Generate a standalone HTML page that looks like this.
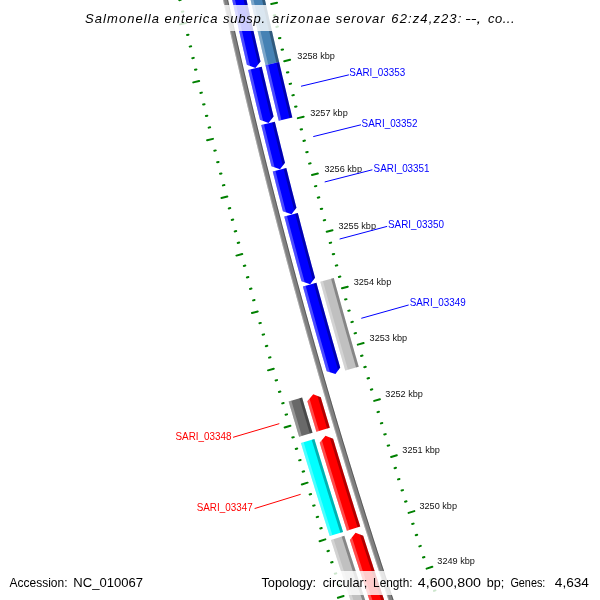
<!DOCTYPE html>
<html><head><meta charset="utf-8"><title>CGView map</title>
<style>
html,body{margin:0;padding:0;background:#fff;}
body{width:600px;height:600px;overflow:hidden;}
svg{display:block;font-family:"Liberation Sans",sans-serif;will-change:transform;filter:opacity(1);}
</style></head><body>
<svg width="600" height="600" viewBox="0 0 600 600">
<rect width="600" height="600" fill="#fff"/>
<clipPath id="c1"><path d="M222.3,-3.18 L222.94,-0.29 L223.57,2.59 L224.21,5.47 L224.85,8.35 L225.49,11.23 L226.13,14.12 L226.77,17 L227.42,19.88 L228.06,22.76 L228.71,25.64 L229.36,28.52 L230.01,31.4 L230.66,34.28 L231.32,37.15 L231.97,40.03 L232.63,42.91 L233.28,45.79 L233.94,48.67 L234.6,51.54 L235.26,54.42 L235.93,57.3 L236.59,60.17 L237.26,63.05 L237.93,65.92 L238.59,68.8 L239.26,71.67 L239.94,74.55 L240.61,77.42 L241.28,80.29 L241.96,83.17 L242.64,86.04 L243.31,88.91 L243.99,91.79 L244.68,94.66 L245.36,97.53 L246.04,100.4 L246.73,103.27 L247.42,106.14 L248.1,109.01 L248.79,111.88 L249.49,114.75 L250.18,117.62 L250.87,120.49 L251.57,123.36 L252.27,126.23 L252.96,129.1 L253.66,131.96 L254.36,134.83 L255.07,137.7 L255.77,140.56 L256.48,143.43 L257.18,146.3 L257.89,149.16 L258.6,152.03 L259.31,154.89 L260.02,157.76 L260.74,160.62 L261.45,163.48 L262.17,166.35 L262.89,169.21 L263.61,172.07 L264.33,174.94 L265.05,177.8 L265.78,180.66 L266.5,183.52 L267.23,186.38 L267.95,189.24 L268.68,192.1 L269.42,194.96 L270.15,197.82 L270.88,200.68 L271.62,203.54 L272.35,206.4 L273.09,209.26 L273.83,212.12 L274.57,214.97 L275.31,217.83 L276.06,220.69 L276.8,223.54 L277.55,226.4 L278.29,229.25 L279.04,232.11 L279.79,234.96 L280.55,237.82 L281.3,240.67 L282.05,243.53 L282.81,246.38 L283.57,249.23 L284.33,252.08 L285.09,254.94 L285.85,257.79 L286.61,260.64 L287.38,263.49 L288.14,266.34 L288.91,269.19 L289.68,272.04 L290.45,274.89 L291.22,277.74 L291.99,280.59 L292.77,283.44 L293.54,286.29 L294.32,289.13 L295.1,291.98 L295.88,294.83 L296.66,297.67 L297.44,300.52 L298.23,303.37 L299.01,306.21 L299.8,309.06 L300.59,311.9 L301.38,314.75 L302.17,317.59 L302.96,320.43 L303.75,323.28 L304.55,326.12 L305.35,328.96 L306.14,331.8 L306.94,334.64 L307.74,337.49 L308.55,340.33 L309.35,343.17 L310.15,346.01 L310.96,348.85 L311.77,351.68 L312.58,354.52 L313.39,357.36 L314.2,360.2 L315.01,363.04 L315.83,365.87 L316.65,368.71 L317.46,371.55 L318.28,374.38 L319.1,377.22 L319.92,380.05 L320.75,382.89 L321.57,385.72 L322.4,388.56 L323.23,391.39 L324.05,394.22 L324.88,397.06 L325.72,399.89 L326.55,402.72 L327.38,405.55 L328.22,408.38 L329.06,411.21 L329.9,414.04 L330.74,416.87 L331.58,419.7 L332.42,422.53 L333.26,425.36 L334.11,428.19 L334.96,431.02 L335.8,433.84 L336.65,436.67 L337.5,439.5 L338.36,442.32 L339.21,445.15 L340.07,447.97 L340.92,450.8 L341.78,453.62 L342.64,456.45 L343.5,459.27 L344.36,462.09 L345.23,464.91 L346.09,467.74 L346.96,470.56 L347.83,473.38 L348.7,476.2 L349.57,479.02 L350.44,481.84 L351.31,484.66 L352.19,487.48 L353.06,490.3 L353.94,493.12 L354.82,495.94 L355.7,498.75 L356.58,501.57 L357.46,504.39 L358.35,507.2 L359.23,510.02 L360.12,512.83 L361.01,515.65 L361.9,518.46 L362.79,521.28 L363.68,524.09 L364.58,526.9 L365.47,529.72 L366.37,532.53 L367.27,535.34 L368.17,538.15 L369.07,540.96 L369.97,543.77 L370.87,546.58 L371.78,549.39 L372.69,552.2 L373.59,555.01 L374.5,557.82 L375.41,560.63 L376.33,563.43 L377.24,566.24 L378.15,569.05 L379.07,571.85 L379.99,574.66 L380.91,577.46 L381.83,580.27 L382.75,583.07 L383.67,585.88 L384.6,588.68 L385.52,591.48 L386.45,594.29 L387.38,597.09 L388.31,599.89 L389.24,602.69 L390.17,605.49 L391.11,608.29 L392.04,611.09 L392.98,613.89 L393.92,616.69 L394.86,619.49 L395.8,622.28 L396.74,625.08 L397.68,627.88 L402.42,626.28 L401.48,623.48 L400.54,620.69 L399.6,617.89 L398.66,615.1 L397.72,612.3 L396.78,609.5 L395.85,606.71 L394.91,603.91 L393.98,601.11 L393.05,598.31 L392.12,595.51 L391.2,592.71 L390.27,589.91 L389.34,587.11 L388.42,584.31 L387.5,581.51 L386.58,578.71 L385.66,575.91 L384.74,573.1 L383.82,570.3 L382.91,567.5 L381.99,564.69 L381.08,561.89 L380.17,559.08 L379.26,556.28 L378.35,553.47 L377.44,550.67 L376.54,547.86 L375.63,545.05 L374.73,542.24 L373.83,539.44 L372.93,536.63 L372.03,533.82 L371.13,531.01 L370.24,528.2 L369.34,525.39 L368.45,522.58 L367.56,519.77 L366.67,516.95 L365.78,514.14 L364.89,511.33 L364,508.52 L363.12,505.7 L362.23,502.89 L361.35,500.08 L360.47,497.26 L359.59,494.45 L358.71,491.63 L357.84,488.81 L356.96,486 L356.09,483.18 L355.21,480.36 L354.34,477.55 L353.47,474.73 L352.6,471.91 L351.74,469.09 L350.87,466.27 L350.01,463.45 L349.14,460.63 L348.28,457.81 L347.42,454.99 L346.56,452.17 L345.71,449.34 L344.85,446.52 L344,443.7 L343.14,440.88 L342.29,438.05 L341.44,435.23 L340.59,432.4 L339.75,429.58 L338.9,426.75 L338.05,423.93 L337.21,421.1 L336.37,418.28 L335.53,415.45 L334.69,412.62 L333.85,409.79 L333.01,406.97 L332.18,404.14 L331.35,401.31 L330.51,398.48 L329.68,395.65 L328.85,392.82 L328.02,389.99 L327.2,387.16 L326.37,384.32 L325.55,381.49 L324.73,378.66 L323.91,375.83 L323.09,372.99 L322.27,370.16 L321.45,367.33 L320.63,364.49 L319.82,361.66 L319.01,358.82 L318.2,355.99 L317.39,353.15 L316.58,350.32 L315.77,347.48 L314.96,344.64 L314.16,341.8 L313.36,338.97 L312.56,336.13 L311.76,333.29 L310.96,330.45 L310.16,327.61 L309.36,324.77 L308.57,321.93 L307.78,319.09 L306.98,316.25 L306.19,313.41 L305.4,310.57 L304.62,307.72 L303.83,304.88 L303.05,302.04 L302.26,299.19 L301.48,296.35 L300.7,293.51 L299.92,290.66 L299.14,287.82 L298.37,284.97 L297.59,282.13 L296.82,279.28 L296.04,276.43 L295.27,273.59 L294.5,270.74 L293.74,267.89 L292.97,265.04 L292.2,262.2 L291.44,259.35 L290.68,256.5 L289.92,253.65 L289.16,250.8 L288.4,247.95 L287.64,245.1 L286.89,242.25 L286.13,239.4 L285.38,236.54 L284.63,233.69 L283.88,230.84 L283.13,227.99 L282.38,225.13 L281.64,222.28 L280.89,219.43 L280.15,216.57 L279.41,213.72 L278.67,210.86 L277.93,208.01 L277.19,205.15 L276.46,202.29 L275.72,199.44 L274.99,196.58 L274.26,193.72 L273.53,190.87 L272.8,188.01 L272.07,185.15 L271.35,182.29 L270.62,179.43 L269.9,176.57 L269.18,173.71 L268.46,170.85 L267.74,167.99 L267.02,165.13 L266.3,162.27 L265.59,159.41 L264.88,156.55 L264.16,153.69 L263.45,150.82 L262.75,147.96 L262.04,145.1 L261.33,142.23 L260.63,139.37 L259.92,136.51 L259.22,133.64 L258.52,130.78 L257.82,127.91 L257.12,125.05 L256.43,122.18 L255.73,119.31 L255.04,116.45 L254.35,113.58 L253.66,110.71 L252.97,107.85 L252.28,104.98 L251.59,102.11 L250.91,99.24 L250.22,96.37 L249.54,93.5 L248.86,90.63 L248.18,87.76 L247.5,84.89 L246.83,82.02 L246.15,79.15 L245.48,76.28 L244.8,73.41 L244.13,70.54 L243.46,67.66 L242.8,64.79 L242.13,61.92 L241.46,59.04 L240.8,56.17 L240.14,53.3 L239.48,50.42 L238.82,47.55 L238.16,44.67 L237.5,41.8 L236.85,38.92 L236.19,36.05 L235.54,33.17 L234.89,30.29 L234.24,27.42 L233.59,24.54 L232.94,21.66 L232.3,18.78 L231.65,15.91 L231.01,13.03 L230.37,10.15 L229.73,7.27 L229.09,4.39 L228.45,1.51 L227.82,-1.37 L227.18,-4.25Z"/></clipPath>
<path d="M222.3,-3.18 L222.94,-0.29 L223.57,2.59 L224.21,5.47 L224.85,8.35 L225.49,11.23 L226.13,14.12 L226.77,17 L227.42,19.88 L228.06,22.76 L228.71,25.64 L229.36,28.52 L230.01,31.4 L230.66,34.28 L231.32,37.15 L231.97,40.03 L232.63,42.91 L233.28,45.79 L233.94,48.67 L234.6,51.54 L235.26,54.42 L235.93,57.3 L236.59,60.17 L237.26,63.05 L237.93,65.92 L238.59,68.8 L239.26,71.67 L239.94,74.55 L240.61,77.42 L241.28,80.29 L241.96,83.17 L242.64,86.04 L243.31,88.91 L243.99,91.79 L244.68,94.66 L245.36,97.53 L246.04,100.4 L246.73,103.27 L247.42,106.14 L248.1,109.01 L248.79,111.88 L249.49,114.75 L250.18,117.62 L250.87,120.49 L251.57,123.36 L252.27,126.23 L252.96,129.1 L253.66,131.96 L254.36,134.83 L255.07,137.7 L255.77,140.56 L256.48,143.43 L257.18,146.3 L257.89,149.16 L258.6,152.03 L259.31,154.89 L260.02,157.76 L260.74,160.62 L261.45,163.48 L262.17,166.35 L262.89,169.21 L263.61,172.07 L264.33,174.94 L265.05,177.8 L265.78,180.66 L266.5,183.52 L267.23,186.38 L267.95,189.24 L268.68,192.1 L269.42,194.96 L270.15,197.82 L270.88,200.68 L271.62,203.54 L272.35,206.4 L273.09,209.26 L273.83,212.12 L274.57,214.97 L275.31,217.83 L276.06,220.69 L276.8,223.54 L277.55,226.4 L278.29,229.25 L279.04,232.11 L279.79,234.96 L280.55,237.82 L281.3,240.67 L282.05,243.53 L282.81,246.38 L283.57,249.23 L284.33,252.08 L285.09,254.94 L285.85,257.79 L286.61,260.64 L287.38,263.49 L288.14,266.34 L288.91,269.19 L289.68,272.04 L290.45,274.89 L291.22,277.74 L291.99,280.59 L292.77,283.44 L293.54,286.29 L294.32,289.13 L295.1,291.98 L295.88,294.83 L296.66,297.67 L297.44,300.52 L298.23,303.37 L299.01,306.21 L299.8,309.06 L300.59,311.9 L301.38,314.75 L302.17,317.59 L302.96,320.43 L303.75,323.28 L304.55,326.12 L305.35,328.96 L306.14,331.8 L306.94,334.64 L307.74,337.49 L308.55,340.33 L309.35,343.17 L310.15,346.01 L310.96,348.85 L311.77,351.68 L312.58,354.52 L313.39,357.36 L314.2,360.2 L315.01,363.04 L315.83,365.87 L316.65,368.71 L317.46,371.55 L318.28,374.38 L319.1,377.22 L319.92,380.05 L320.75,382.89 L321.57,385.72 L322.4,388.56 L323.23,391.39 L324.05,394.22 L324.88,397.06 L325.72,399.89 L326.55,402.72 L327.38,405.55 L328.22,408.38 L329.06,411.21 L329.9,414.04 L330.74,416.87 L331.58,419.7 L332.42,422.53 L333.26,425.36 L334.11,428.19 L334.96,431.02 L335.8,433.84 L336.65,436.67 L337.5,439.5 L338.36,442.32 L339.21,445.15 L340.07,447.97 L340.92,450.8 L341.78,453.62 L342.64,456.45 L343.5,459.27 L344.36,462.09 L345.23,464.91 L346.09,467.74 L346.96,470.56 L347.83,473.38 L348.7,476.2 L349.57,479.02 L350.44,481.84 L351.31,484.66 L352.19,487.48 L353.06,490.3 L353.94,493.12 L354.82,495.94 L355.7,498.75 L356.58,501.57 L357.46,504.39 L358.35,507.2 L359.23,510.02 L360.12,512.83 L361.01,515.65 L361.9,518.46 L362.79,521.28 L363.68,524.09 L364.58,526.9 L365.47,529.72 L366.37,532.53 L367.27,535.34 L368.17,538.15 L369.07,540.96 L369.97,543.77 L370.87,546.58 L371.78,549.39 L372.69,552.2 L373.59,555.01 L374.5,557.82 L375.41,560.63 L376.33,563.43 L377.24,566.24 L378.15,569.05 L379.07,571.85 L379.99,574.66 L380.91,577.46 L381.83,580.27 L382.75,583.07 L383.67,585.88 L384.6,588.68 L385.52,591.48 L386.45,594.29 L387.38,597.09 L388.31,599.89 L389.24,602.69 L390.17,605.49 L391.11,608.29 L392.04,611.09 L392.98,613.89 L393.92,616.69 L394.86,619.49 L395.8,622.28 L396.74,625.08 L397.68,627.88 L402.42,626.28 L401.48,623.48 L400.54,620.69 L399.6,617.89 L398.66,615.1 L397.72,612.3 L396.78,609.5 L395.85,606.71 L394.91,603.91 L393.98,601.11 L393.05,598.31 L392.12,595.51 L391.2,592.71 L390.27,589.91 L389.34,587.11 L388.42,584.31 L387.5,581.51 L386.58,578.71 L385.66,575.91 L384.74,573.1 L383.82,570.3 L382.91,567.5 L381.99,564.69 L381.08,561.89 L380.17,559.08 L379.26,556.28 L378.35,553.47 L377.44,550.67 L376.54,547.86 L375.63,545.05 L374.73,542.24 L373.83,539.44 L372.93,536.63 L372.03,533.82 L371.13,531.01 L370.24,528.2 L369.34,525.39 L368.45,522.58 L367.56,519.77 L366.67,516.95 L365.78,514.14 L364.89,511.33 L364,508.52 L363.12,505.7 L362.23,502.89 L361.35,500.08 L360.47,497.26 L359.59,494.45 L358.71,491.63 L357.84,488.81 L356.96,486 L356.09,483.18 L355.21,480.36 L354.34,477.55 L353.47,474.73 L352.6,471.91 L351.74,469.09 L350.87,466.27 L350.01,463.45 L349.14,460.63 L348.28,457.81 L347.42,454.99 L346.56,452.17 L345.71,449.34 L344.85,446.52 L344,443.7 L343.14,440.88 L342.29,438.05 L341.44,435.23 L340.59,432.4 L339.75,429.58 L338.9,426.75 L338.05,423.93 L337.21,421.1 L336.37,418.28 L335.53,415.45 L334.69,412.62 L333.85,409.79 L333.01,406.97 L332.18,404.14 L331.35,401.31 L330.51,398.48 L329.68,395.65 L328.85,392.82 L328.02,389.99 L327.2,387.16 L326.37,384.32 L325.55,381.49 L324.73,378.66 L323.91,375.83 L323.09,372.99 L322.27,370.16 L321.45,367.33 L320.63,364.49 L319.82,361.66 L319.01,358.82 L318.2,355.99 L317.39,353.15 L316.58,350.32 L315.77,347.48 L314.96,344.64 L314.16,341.8 L313.36,338.97 L312.56,336.13 L311.76,333.29 L310.96,330.45 L310.16,327.61 L309.36,324.77 L308.57,321.93 L307.78,319.09 L306.98,316.25 L306.19,313.41 L305.4,310.57 L304.62,307.72 L303.83,304.88 L303.05,302.04 L302.26,299.19 L301.48,296.35 L300.7,293.51 L299.92,290.66 L299.14,287.82 L298.37,284.97 L297.59,282.13 L296.82,279.28 L296.04,276.43 L295.27,273.59 L294.5,270.74 L293.74,267.89 L292.97,265.04 L292.2,262.2 L291.44,259.35 L290.68,256.5 L289.92,253.65 L289.16,250.8 L288.4,247.95 L287.64,245.1 L286.89,242.25 L286.13,239.4 L285.38,236.54 L284.63,233.69 L283.88,230.84 L283.13,227.99 L282.38,225.13 L281.64,222.28 L280.89,219.43 L280.15,216.57 L279.41,213.72 L278.67,210.86 L277.93,208.01 L277.19,205.15 L276.46,202.29 L275.72,199.44 L274.99,196.58 L274.26,193.72 L273.53,190.87 L272.8,188.01 L272.07,185.15 L271.35,182.29 L270.62,179.43 L269.9,176.57 L269.18,173.71 L268.46,170.85 L267.74,167.99 L267.02,165.13 L266.3,162.27 L265.59,159.41 L264.88,156.55 L264.16,153.69 L263.45,150.82 L262.75,147.96 L262.04,145.1 L261.33,142.23 L260.63,139.37 L259.92,136.51 L259.22,133.64 L258.52,130.78 L257.82,127.91 L257.12,125.05 L256.43,122.18 L255.73,119.31 L255.04,116.45 L254.35,113.58 L253.66,110.71 L252.97,107.85 L252.28,104.98 L251.59,102.11 L250.91,99.24 L250.22,96.37 L249.54,93.5 L248.86,90.63 L248.18,87.76 L247.5,84.89 L246.83,82.02 L246.15,79.15 L245.48,76.28 L244.8,73.41 L244.13,70.54 L243.46,67.66 L242.8,64.79 L242.13,61.92 L241.46,59.04 L240.8,56.17 L240.14,53.3 L239.48,50.42 L238.82,47.55 L238.16,44.67 L237.5,41.8 L236.85,38.92 L236.19,36.05 L235.54,33.17 L234.89,30.29 L234.24,27.42 L233.59,24.54 L232.94,21.66 L232.3,18.78 L231.65,15.91 L231.01,13.03 L230.37,10.15 L229.73,7.27 L229.09,4.39 L228.45,1.51 L227.82,-1.37 L227.18,-4.25Z" fill="#808080"/>
<g clip-path="url(#c1)"><path d="M397.68,631 L396.74,628.2 L395.79,625.4 L394.85,622.6 L393.91,619.8 L392.97,617.01 L392.03,614.21 L391.09,611.41 L390.16,608.61 L389.22,605.81 L388.29,603.01 L387.36,600.2 L386.43,597.4 L385.5,594.6 L384.57,591.8 L383.65,588.99 L382.72,586.19 L381.8,583.39 L380.88,580.58 L379.96,577.78 L379.04,574.97 L378.12,572.16 L377.2,569.36 L376.29,566.55 L375.37,563.74 L374.46,560.94 L373.55,558.13 L372.64,555.32 L371.73,552.51 L370.83,549.7 L369.92,546.89 L369.02,544.08 L368.12,541.27 L367.21,538.46 L366.31,535.65 L365.42,532.83 L364.52,530.02 L363.62,527.21 L362.73,524.39 L361.84,521.58 L360.94,518.76 L360.05,515.95 L359.17,513.13 L358.28,510.32 L357.39,507.5 L356.51,504.69 L355.63,501.87 L354.74,499.05 L353.86,496.23 L352.98,493.42 L352.11,490.6 L351.23,487.78 L350.36,484.96 L349.48,482.14 L348.61,479.32 L347.74,476.5 L346.87,473.67 L346,470.85 L345.14,468.03 L344.27,465.21 L343.41,462.38 L342.54,459.56 L341.68,456.74 L340.82,453.91 L339.97,451.09 L339.11,448.26 L338.25,445.44 L337.4,442.61 L336.55,439.78 L335.7,436.96 L334.85,434.13 L334,431.3 L333.15,428.47 L332.31,425.65 L331.46,422.82 L330.62,419.99 L329.78,417.16 L328.94,414.33 L328.1,411.5 L327.26,408.67 L326.42,405.83 L325.59,403 L324.76,400.17 L323.93,397.34 L323.09,394.5 L322.27,391.67 L321.44,388.84 L320.61,386 L319.79,383.17 L318.96,380.33 L318.14,377.5 L317.32,374.66 L316.5,371.82 L315.68,368.99 L314.87,366.15 L314.05,363.31 L313.24,360.47 L312.43,357.64 L311.62,354.8 L310.81,351.96 L310,349.12 L309.19,346.28 L308.39,343.44 L307.58,340.6 L306.78,337.76 L305.98,334.92 L305.18,332.07 L304.38,329.23 L303.59,326.39 L302.79,323.55 L302,320.7 L301.2,317.86 L300.41,315.01 L299.62,312.17 L298.83,309.32 L298.05,306.48 L297.26,303.63 L296.48,300.79 L295.69,297.94 L294.91,295.09 L294.13,292.25 L293.35,289.4 L292.58,286.55 L291.8,283.7 L291.03,280.85 L290.25,278 L289.48,275.15 L288.71,272.3 L287.94,269.45 L287.18,266.6 L286.41,263.75 L285.64,260.9 L284.88,258.05 L284.12,255.19 L283.36,252.34 L282.6,249.49 L281.84,246.64 L281.09,243.78 L280.33,240.93 L279.58,238.07 L278.83,235.22 L278.08,232.36 L277.33,229.51 L276.58,226.65 L275.83,223.8 L275.09,220.94 L274.34,218.08 L273.6,215.22 L272.86,212.37 L272.12,209.51 L271.38,206.65 L270.65,203.79 L269.91,200.93 L269.18,198.07 L268.45,195.21 L267.72,192.35 L266.99,189.49 L266.26,186.63 L265.53,183.77 L264.81,180.91 L264.08,178.04 L263.36,175.18 L262.64,172.32 L261.92,169.45 L261.2,166.59 L260.48,163.73 L259.77,160.86 L259.05,158 L258.34,155.13 L257.63,152.27 L256.92,149.4 L256.21,146.54 L255.51,143.67 L254.8,140.8 L254.1,137.94 L253.39,135.07 L252.69,132.2 L251.99,129.33 L251.29,126.46 L250.6,123.6 L249.9,120.73 L249.21,117.86 L248.51,114.99 L247.82,112.12 L247.13,109.25 L246.44,106.38 L245.76,103.5 L245.07,100.63 L244.39,97.76 L243.7,94.89 L243.02,92.02 L242.34,89.14 L241.66,86.27 L240.99,83.4 L240.31,80.52 L239.64,77.65 L238.96,74.77 L238.29,71.9 L237.62,69.02 L236.95,66.15 L236.28,63.27 L235.62,60.4 L234.95,57.52 L234.29,54.64 L233.63,51.77 L232.97,48.89 L232.31,46.01 L231.65,43.13 L231,40.25 L230.34,37.38 L229.69,34.5 L229.04,31.62 L228.39,28.74 L227.74,25.86 L227.09,22.98 L226.44,20.1 L225.8,17.21 L225.15,14.33 L224.51,11.45 L223.87,8.57 L223.23,5.69 L222.6,2.8 L221.96,-0.08 L221.32,-2.96 L220.69,-5.84 L222.64,-6.27 L223.28,-3.39 L223.91,-0.51 L224.55,2.37 L225.19,5.26 L225.82,8.14 L226.46,11.02 L227.11,13.9 L227.75,16.78 L228.39,19.66 L229.04,22.54 L229.69,25.42 L230.34,28.3 L230.99,31.18 L231.64,34.05 L232.29,36.93 L232.95,39.81 L233.6,42.69 L234.26,45.56 L234.92,48.44 L235.58,51.32 L236.24,54.19 L236.9,57.07 L237.57,59.95 L238.23,62.82 L238.9,65.7 L239.57,68.57 L240.24,71.44 L240.91,74.32 L241.58,77.19 L242.26,80.07 L242.93,82.94 L243.61,85.81 L244.29,88.68 L244.97,91.56 L245.65,94.43 L246.33,97.3 L247.02,100.17 L247.7,103.04 L248.39,105.91 L249.08,108.78 L249.77,111.65 L250.46,114.52 L251.15,117.39 L251.84,120.26 L252.54,123.12 L253.24,125.99 L253.93,128.86 L254.63,131.73 L255.34,134.59 L256.04,137.46 L256.74,140.33 L257.45,143.19 L258.15,146.06 L258.86,148.92 L259.57,151.79 L260.28,154.65 L261,157.52 L261.71,160.38 L262.42,163.24 L263.14,166.11 L263.86,168.97 L264.58,171.83 L265.3,174.69 L266.02,177.55 L266.74,180.41 L267.47,183.28 L268.2,186.14 L268.92,189 L269.65,191.86 L270.38,194.72 L271.12,197.57 L271.85,200.43 L272.58,203.29 L273.32,206.15 L274.06,209.01 L274.8,211.86 L275.54,214.72 L276.28,217.58 L277.02,220.43 L277.77,223.29 L278.51,226.15 L279.26,229 L280.01,231.86 L280.76,234.71 L281.51,237.56 L282.27,240.42 L283.02,243.27 L283.78,246.12 L284.53,248.98 L285.29,251.83 L286.05,254.68 L286.81,257.53 L287.58,260.38 L288.34,263.23 L289.11,266.08 L289.87,268.93 L290.64,271.78 L291.41,274.63 L292.18,277.48 L292.96,280.33 L293.73,283.18 L294.51,286.02 L295.28,288.87 L296.06,291.72 L296.84,294.56 L297.62,297.41 L298.41,300.26 L299.19,303.1 L299.97,305.95 L300.76,308.79 L301.55,311.63 L302.34,314.48 L303.13,317.32 L303.92,320.16 L304.72,323.01 L305.51,325.85 L306.31,328.69 L307.11,331.53 L307.91,334.37 L308.71,337.21 L309.51,340.05 L310.31,342.89 L311.12,345.73 L311.92,348.57 L312.73,351.41 L313.54,354.25 L314.35,357.09 L315.16,359.92 L315.98,362.76 L316.79,365.6 L317.61,368.43 L318.42,371.27 L319.24,374.11 L320.06,376.94 L320.88,379.77 L321.71,382.61 L322.53,385.44 L323.36,388.28 L324.19,391.11 L325.01,393.94 L325.84,396.77 L326.68,399.61 L327.51,402.44 L328.34,405.27 L329.18,408.1 L330.02,410.93 L330.85,413.76 L331.69,416.59 L332.53,419.42 L333.38,422.25 L334.22,425.07 L335.07,427.9 L335.91,430.73 L336.76,433.55 L337.61,436.38 L338.46,439.21 L339.31,442.03 L340.17,444.86 L341.02,447.68 L341.88,450.51 L342.74,453.33 L343.6,456.15 L344.46,458.98 L345.32,461.8 L346.18,464.62 L347.05,467.44 L347.91,470.26 L348.78,473.09 L349.65,475.91 L350.52,478.73 L351.39,481.55 L352.27,484.37 L353.14,487.18 L354.02,490 L354.89,492.82 L355.77,495.64 L356.65,498.45 L357.53,501.27 L358.42,504.09 L359.3,506.9 L360.19,509.72 L361.07,512.53 L361.96,515.35 L362.85,518.16 L363.74,520.98 L364.64,523.79 L365.53,526.6 L366.42,529.41 L367.32,532.22 L368.22,535.04 L369.12,537.85 L370.02,540.66 L370.92,543.47 L371.83,546.28 L372.73,549.09 L373.64,551.89 L374.54,554.7 L375.45,557.51 L376.36,560.32 L377.28,563.13 L378.19,565.93 L379.1,568.74 L380.02,571.54 L380.94,574.35 L381.86,577.15 L382.78,579.96 L383.7,582.76 L384.62,585.56 L385.55,588.37 L386.47,591.17 L387.4,593.97 L388.33,596.77 L389.26,599.57 L390.19,602.37 L391.12,605.17 L392.05,607.97 L392.99,610.77 L393.93,613.57 L394.86,616.37 L395.8,619.17 L396.74,621.97 L397.69,624.76 L398.63,627.56 L399.57,630.35Z" fill="#fff" fill-opacity="0.3"/><path d="M402.42,629.39 L401.47,626.6 L400.53,623.8 L399.59,621.01 L398.65,618.21 L397.71,615.42 L396.77,612.62 L395.83,609.82 L394.9,607.02 L393.97,604.23 L393.03,601.43 L392.1,598.63 L391.17,595.83 L390.25,593.03 L389.32,590.23 L388.39,587.43 L387.47,584.63 L386.55,581.82 L385.63,579.02 L384.71,576.22 L383.79,573.41 L382.87,570.61 L381.96,567.81 L381.04,565 L380.13,562.2 L379.22,559.39 L378.31,556.59 L377.4,553.78 L376.49,550.97 L375.59,548.17 L374.68,545.36 L373.78,542.55 L372.88,539.74 L371.98,536.93 L371.08,534.12 L370.18,531.31 L369.28,528.5 L368.39,525.69 L367.49,522.88 L366.6,520.07 L365.71,517.26 L364.82,514.44 L363.93,511.63 L363.05,508.82 L362.16,506 L361.28,503.19 L360.4,500.37 L359.52,497.56 L358.64,494.74 L357.76,491.93 L356.88,489.11 L356.01,486.29 L355.13,483.48 L354.26,480.66 L353.39,477.84 L352.52,475.02 L351.65,472.2 L350.78,469.38 L349.92,466.56 L349.05,463.74 L348.19,460.92 L347.33,458.1 L346.47,455.28 L345.61,452.46 L344.75,449.64 L343.89,446.81 L343.04,443.99 L342.19,441.17 L341.33,438.34 L340.48,435.52 L339.63,432.69 L338.79,429.87 L337.94,427.04 L337.1,424.21 L336.25,421.39 L335.41,418.56 L334.57,415.73 L333.73,412.91 L332.89,410.08 L332.06,407.25 L331.22,404.42 L330.39,401.59 L329.55,398.76 L328.72,395.93 L327.89,393.1 L327.07,390.27 L326.24,387.44 L325.41,384.6 L324.59,381.77 L323.77,378.94 L322.94,376.11 L322.12,373.27 L321.31,370.44 L320.49,367.6 L319.67,364.77 L318.86,361.93 L318.05,359.1 L317.23,356.26 L316.42,353.43 L315.62,350.59 L314.81,347.75 L314,344.91 L313.2,342.08 L312.4,339.24 L311.59,336.4 L310.79,333.56 L309.99,330.72 L309.2,327.88 L308.4,325.04 L307.61,322.2 L306.81,319.36 L306.02,316.52 L305.23,313.67 L304.44,310.83 L303.65,307.99 L302.87,305.15 L302.08,302.3 L301.3,299.46 L300.52,296.62 L299.73,293.77 L298.96,290.93 L298.18,288.08 L297.4,285.23 L296.63,282.39 L295.85,279.54 L295.08,276.69 L294.31,273.85 L293.54,271 L292.77,268.15 L292,265.3 L291.24,262.45 L290.47,259.61 L289.71,256.76 L288.95,253.91 L288.19,251.06 L287.43,248.2 L286.68,245.35 L285.92,242.5 L285.17,239.65 L284.41,236.8 L283.66,233.95 L282.91,231.09 L282.16,228.24 L281.42,225.39 L280.67,222.53 L279.93,219.68 L279.18,216.82 L278.44,213.97 L277.7,211.11 L276.96,208.26 L276.23,205.4 L275.49,202.54 L274.76,199.69 L274.02,196.83 L273.29,193.97 L272.56,191.11 L271.83,188.26 L271.1,185.4 L270.38,182.54 L269.65,179.68 L268.93,176.82 L268.21,173.96 L267.49,171.1 L266.77,168.24 L266.05,165.38 L265.33,162.51 L264.62,159.65 L263.91,156.79 L263.19,153.93 L262.48,151.06 L261.77,148.2 L261.07,145.34 L260.36,142.47 L259.66,139.61 L258.95,136.74 L258.25,133.88 L257.55,131.01 L256.85,128.15 L256.15,125.28 L255.46,122.42 L254.76,119.55 L254.07,116.68 L253.37,113.81 L252.68,110.95 L251.99,108.08 L251.31,105.21 L250.62,102.34 L249.93,99.47 L249.25,96.6 L248.57,93.73 L247.89,90.86 L247.21,87.99 L246.53,85.12 L245.85,82.25 L245.18,79.38 L244.5,76.51 L243.83,73.64 L243.16,70.76 L242.49,67.89 L241.82,65.02 L241.15,62.14 L240.49,59.27 L239.83,56.4 L239.16,53.52 L238.5,50.65 L237.84,47.77 L237.18,44.9 L236.53,42.02 L235.87,39.14 L235.22,36.27 L234.56,33.39 L233.91,30.51 L233.26,27.64 L232.61,24.76 L231.97,21.88 L231.32,19 L230.68,16.12 L230.03,13.25 L229.39,10.37 L228.75,7.49 L228.11,4.61 L227.48,1.73 L226.84,-1.15 L226.21,-4.04 L225.57,-6.92 L227.53,-7.34 L228.16,-4.46 L228.79,-1.58 L229.43,1.29 L230.07,4.17 L230.71,7.05 L231.35,9.93 L231.99,12.81 L232.63,15.69 L233.27,18.57 L233.92,21.44 L234.57,24.32 L235.21,27.2 L235.86,30.07 L236.51,32.95 L237.17,35.82 L237.82,38.7 L238.48,41.58 L239.13,44.45 L239.79,47.32 L240.45,50.2 L241.11,53.07 L241.77,55.95 L242.44,58.82 L243.1,61.69 L243.77,64.56 L244.44,67.44 L245.11,70.31 L245.78,73.18 L246.45,76.05 L247.12,78.92 L247.8,81.79 L248.48,84.66 L249.15,87.53 L249.83,90.4 L250.51,93.27 L251.2,96.14 L251.88,99.01 L252.56,101.88 L253.25,104.74 L253.94,107.61 L254.63,110.48 L255.32,113.35 L256.01,116.21 L256.7,119.08 L257.4,121.94 L258.1,124.81 L258.79,127.68 L259.49,130.54 L260.19,133.4 L260.89,136.27 L261.6,139.13 L262.3,142 L263.01,144.86 L263.72,147.72 L264.42,150.58 L265.14,153.45 L265.85,156.31 L266.56,159.17 L267.27,162.03 L267.99,164.89 L268.71,167.75 L269.43,170.61 L270.15,173.47 L270.87,176.33 L271.59,179.19 L272.32,182.05 L273.04,184.9 L273.77,187.76 L274.5,190.62 L275.23,193.48 L275.96,196.33 L276.69,199.19 L277.43,202.05 L278.16,204.9 L278.9,207.76 L279.64,210.61 L280.38,213.47 L281.12,216.32 L281.86,219.17 L282.61,222.03 L283.35,224.88 L284.1,227.73 L284.85,230.59 L285.6,233.44 L286.35,236.29 L287.1,239.14 L287.85,241.99 L288.61,244.84 L289.37,247.69 L290.12,250.54 L290.88,253.39 L291.64,256.24 L292.41,259.09 L293.17,261.94 L293.94,264.78 L294.7,267.63 L295.47,270.48 L296.24,273.33 L297.01,276.17 L297.78,279.02 L298.56,281.86 L299.33,284.71 L300.11,287.55 L300.88,290.4 L301.66,293.24 L302.44,296.09 L303.23,298.93 L304.01,301.77 L304.79,304.61 L305.58,307.46 L306.37,310.3 L307.16,313.14 L307.95,315.98 L308.74,318.82 L309.53,321.66 L310.33,324.5 L311.12,327.34 L311.92,330.18 L312.72,333.02 L313.52,335.86 L314.32,338.69 L315.12,341.53 L315.93,344.37 L316.73,347.2 L317.54,350.04 L318.35,352.88 L319.16,355.71 L319.97,358.55 L320.78,361.38 L321.6,364.22 L322.41,367.05 L323.23,369.88 L324.05,372.72 L324.87,375.55 L325.69,378.38 L326.51,381.21 L327.33,384.04 L328.16,386.88 L328.98,389.71 L329.81,392.54 L330.64,395.37 L331.47,398.2 L332.31,401.02 L333.14,403.85 L333.97,406.68 L334.81,409.51 L335.65,412.34 L336.49,415.16 L337.33,417.99 L338.17,420.82 L339.01,423.64 L339.86,426.47 L340.7,429.29 L341.55,432.12 L342.4,434.94 L343.25,437.76 L344.1,440.59 L344.95,443.41 L345.81,446.23 L346.66,449.05 L347.52,451.88 L348.38,454.7 L349.24,457.52 L350.1,460.34 L350.96,463.16 L351.83,465.98 L352.69,468.8 L353.56,471.61 L354.43,474.43 L355.3,477.25 L356.17,480.07 L357.04,482.88 L357.92,485.7 L358.79,488.52 L359.67,491.33 L360.55,494.15 L361.42,496.96 L362.31,499.78 L363.19,502.59 L364.07,505.4 L364.96,508.22 L365.84,511.03 L366.73,513.84 L367.62,516.65 L368.51,519.46 L369.4,522.27 L370.29,525.09 L371.19,527.9 L372.08,530.7 L372.98,533.51 L373.88,536.32 L374.78,539.13 L375.68,541.94 L376.58,544.75 L377.49,547.55 L378.39,550.36 L379.3,553.16 L380.21,555.97 L381.12,558.77 L382.03,561.58 L382.94,564.38 L383.86,567.19 L384.77,569.99 L385.69,572.79 L386.61,575.6 L387.53,578.4 L388.45,581.2 L389.37,584 L390.29,586.8 L391.22,589.6 L392.14,592.4 L393.07,595.2 L394,598 L394.93,600.8 L395.86,603.59 L396.8,606.39 L397.73,609.19 L398.67,611.98 L399.6,614.78 L400.54,617.58 L401.48,620.37 L402.42,623.16 L403.37,625.96 L404.31,628.75Z" fill="#000" fill-opacity="0.3"/></g>
<clipPath id="c2"><path d="M231.09,-5.11 L231.73,-2.2 L232.38,0.72 L233.02,3.63 L233.67,6.54 L234.31,9.45 L234.96,12.37 L235.61,15.28 L236.26,18.19 L236.92,21.1 L237.57,24.01 L238.23,26.92 L238.88,29.83 L239.54,32.74 L240.2,35.65 L240.87,38.56 L241.53,41.47 L242.19,44.38 L242.86,47.28 L243.53,50.19 L244.2,53.1 L244.87,56.01 L245.54,58.91 L246.21,61.82 L246.89,64.72 L255.43,67.9 L260.52,61.55 L259.85,58.65 L259.18,55.76 L258.51,52.86 L257.84,49.96 L257.17,47.05 L256.51,44.15 L255.84,41.25 L255.18,38.35 L254.52,35.45 L253.86,32.55 L253.2,29.65 L252.54,26.74 L251.88,23.84 L251.23,20.94 L250.58,18.03 L249.92,15.13 L249.27,12.22 L248.63,9.32 L247.98,6.41 L247.33,3.51 L246.69,0.6 L246.05,-2.3 L245.4,-5.21 L244.76,-8.12Z"/></clipPath>
<path d="M231.09,-5.11 L231.73,-2.2 L232.38,0.72 L233.02,3.63 L233.67,6.54 L234.31,9.45 L234.96,12.37 L235.61,15.28 L236.26,18.19 L236.92,21.1 L237.57,24.01 L238.23,26.92 L238.88,29.83 L239.54,32.74 L240.2,35.65 L240.87,38.56 L241.53,41.47 L242.19,44.38 L242.86,47.28 L243.53,50.19 L244.2,53.1 L244.87,56.01 L245.54,58.91 L246.21,61.82 L246.89,64.72 L255.43,67.9 L260.52,61.55 L259.85,58.65 L259.18,55.76 L258.51,52.86 L257.84,49.96 L257.17,47.05 L256.51,44.15 L255.84,41.25 L255.18,38.35 L254.52,35.45 L253.86,32.55 L253.2,29.65 L252.54,26.74 L251.88,23.84 L251.23,20.94 L250.58,18.03 L249.92,15.13 L249.27,12.22 L248.63,9.32 L247.98,6.41 L247.33,3.51 L246.69,0.6 L246.05,-2.3 L245.4,-5.21 L244.76,-8.12Z" fill="#0000ff"/>
<g clip-path="url(#c2)"><path d="M247.73,72.72 L247.05,69.85 L246.39,66.98 L245.72,64.11 L245.05,61.24 L244.39,58.37 L243.72,55.5 L243.06,52.62 L242.4,49.75 L241.74,46.88 L241.08,44 L240.43,41.13 L239.77,38.26 L239.12,35.38 L238.47,32.51 L237.81,29.63 L237.16,26.76 L236.52,23.88 L235.87,21 L235.22,18.13 L234.58,15.25 L233.94,12.37 L233.3,9.5 L232.66,6.62 L232.02,3.74 L231.38,0.86 L230.75,-2.02 L230.11,-4.89 L229.48,-7.77 L233.19,-8.59 L233.83,-5.71 L234.46,-2.83 L235.09,0.04 L235.73,2.92 L236.37,5.8 L237.01,8.67 L237.65,11.55 L238.29,14.42 L238.93,17.3 L239.58,20.17 L240.22,23.05 L240.87,25.92 L241.52,28.79 L242.17,31.67 L242.82,34.54 L243.48,37.41 L244.13,40.28 L244.79,43.16 L245.44,46.03 L246.1,48.9 L246.76,51.77 L247.43,54.64 L248.09,57.51 L248.75,60.38 L249.42,63.25 L250.09,66.12 L250.76,68.99 L251.43,71.86Z" fill="#fff" fill-opacity="0.3"/><path d="M259.6,69.95 L258.94,67.08 L258.27,64.22 L257.6,61.35 L256.94,58.49 L256.27,55.62 L255.61,52.75 L254.95,49.89 L254.29,47.02 L253.63,44.15 L252.98,41.28 L252.32,38.42 L251.67,35.55 L251.01,32.68 L250.36,29.81 L249.71,26.94 L249.07,24.07 L248.42,21.2 L247.77,18.33 L247.13,15.46 L246.49,12.59 L245.85,9.72 L245.21,6.85 L244.57,3.98 L243.93,1.1 L243.3,-1.77 L242.66,-4.64 L242.03,-7.51 L241.4,-10.39 L245.11,-11.2 L245.74,-8.33 L246.37,-5.46 L247.01,-2.59 L247.64,0.28 L248.28,3.15 L248.92,6.02 L249.56,8.89 L250.2,11.76 L250.84,14.63 L251.48,17.5 L252.13,20.37 L252.77,23.24 L253.42,26.1 L254.07,28.97 L254.72,31.84 L255.37,34.7 L256.03,37.57 L256.68,40.44 L257.34,43.3 L257.99,46.17 L258.65,49.03 L259.31,51.9 L259.97,54.76 L260.64,57.63 L261.3,60.49 L261.97,63.35 L262.64,66.22 L263.31,69.08Z" fill="#000" fill-opacity="0.3"/></g>
<clipPath id="c3"><path d="M248.1,69.91 L248.78,72.85 L249.47,75.79 L250.16,78.72 L250.85,81.66 L251.54,84.59 L252.23,87.53 L252.93,90.46 L253.63,93.39 L254.32,96.33 L255.02,99.26 L255.72,102.19 L256.43,105.13 L257.13,108.06 L257.84,110.99 L258.54,113.92 L259.25,116.85 L259.96,119.78 L268.53,122.88 L273.57,116.48 L272.86,113.56 L272.15,110.64 L271.45,107.71 L270.74,104.79 L270.04,101.86 L269.34,98.94 L268.64,96.01 L267.94,93.08 L267.25,90.16 L266.55,87.23 L265.86,84.3 L265.17,81.37 L264.48,78.45 L263.79,75.52 L263.1,72.59 L262.41,69.66 L261.73,66.73Z"/></clipPath>
<path d="M248.1,69.91 L248.78,72.85 L249.47,75.79 L250.16,78.72 L250.85,81.66 L251.54,84.59 L252.23,87.53 L252.93,90.46 L253.63,93.39 L254.32,96.33 L255.02,99.26 L255.72,102.19 L256.43,105.13 L257.13,108.06 L257.84,110.99 L258.54,113.92 L259.25,116.85 L259.96,119.78 L268.53,122.88 L273.57,116.48 L272.86,113.56 L272.15,110.64 L271.45,107.71 L270.74,104.79 L270.04,101.86 L269.34,98.94 L268.64,96.01 L267.94,93.08 L267.25,90.16 L266.55,87.23 L265.86,84.3 L265.17,81.37 L264.48,78.45 L263.79,75.52 L263.1,72.59 L262.41,69.66 L261.73,66.73Z" fill="#0000ff"/>
<g clip-path="url(#c3)"><path d="M260.88,127.77 L260.17,124.9 L259.47,122.02 L258.78,119.14 L258.08,116.26 L257.38,113.38 L256.69,110.5 L256,107.62 L255.31,104.74 L254.62,101.86 L253.93,98.98 L253.24,96.1 L252.56,93.22 L251.87,90.34 L251.19,87.45 L250.51,84.57 L249.83,81.69 L249.15,78.81 L248.47,75.92 L247.8,73.04 L247.13,70.15 L246.45,67.27 L250.15,66.41 L250.83,69.29 L251.5,72.17 L252.17,75.06 L252.85,77.94 L253.53,80.82 L254.21,83.7 L254.89,86.58 L255.57,89.46 L256.25,92.34 L256.94,95.22 L257.63,98.1 L258.31,100.98 L259,103.86 L259.69,106.74 L260.39,109.61 L261.08,112.49 L261.77,115.37 L262.47,118.25 L263.17,121.12 L263.87,124 L264.57,126.87Z" fill="#fff" fill-opacity="0.3"/><path d="M272.73,124.88 L272.03,122.01 L271.33,119.14 L270.63,116.27 L269.94,113.39 L269.24,110.52 L268.55,107.65 L267.86,104.77 L267.17,101.9 L266.48,99.02 L265.8,96.15 L265.11,93.27 L264.43,90.4 L263.74,87.52 L263.06,84.65 L262.38,81.77 L261.7,78.89 L261.03,76.02 L260.35,73.14 L259.68,70.26 L259.01,67.38 L258.33,64.5 L262.04,63.64 L262.71,66.52 L263.38,69.39 L264.05,72.27 L264.73,75.15 L265.4,78.02 L266.08,80.9 L266.76,83.77 L267.44,86.65 L268.12,89.52 L268.81,92.39 L269.49,95.27 L270.18,98.14 L270.87,101.01 L271.56,103.89 L272.25,106.76 L272.94,109.63 L273.63,112.5 L274.33,115.37 L275.02,118.24 L275.72,121.11 L276.42,123.98Z" fill="#000" fill-opacity="0.3"/></g>
<clipPath id="c4"><path d="M261.22,124.96 L261.94,127.91 L262.66,130.86 L263.38,133.81 L264.11,136.77 L264.83,139.72 L265.56,142.67 L266.29,145.62 L267.02,148.57 L267.75,151.51 L268.48,154.46 L269.21,157.41 L269.95,160.36 L270.69,163.31 L271.43,166.25 L280.02,169.28 L285,162.85 L284.27,159.91 L283.53,156.97 L282.8,154.02 L282.07,151.08 L281.33,148.14 L280.6,145.2 L279.88,142.26 L279.15,139.31 L278.43,136.37 L277.7,133.43 L276.98,130.48 L276.26,127.54 L275.54,124.59 L274.82,121.65Z"/></clipPath>
<path d="M261.22,124.96 L261.94,127.91 L262.66,130.86 L263.38,133.81 L264.11,136.77 L264.83,139.72 L265.56,142.67 L266.29,145.62 L267.02,148.57 L267.75,151.51 L268.48,154.46 L269.21,157.41 L269.95,160.36 L270.69,163.31 L271.43,166.25 L280.02,169.28 L285,162.85 L284.27,159.91 L283.53,156.97 L282.8,154.02 L282.07,151.08 L281.33,148.14 L280.6,145.2 L279.88,142.26 L279.15,139.31 L278.43,136.37 L277.7,133.43 L276.98,130.48 L276.26,127.54 L275.54,124.59 L274.82,121.65Z" fill="#0000ff"/>
<g clip-path="url(#c4)"><path d="M272.4,174.24 L271.68,171.36 L270.95,168.48 L270.23,165.6 L269.51,162.71 L268.79,159.83 L268.07,156.95 L267.35,154.07 L266.63,151.18 L265.92,148.3 L265.21,145.42 L264.49,142.53 L263.78,139.65 L263.07,136.76 L262.37,133.88 L261.66,130.99 L260.96,128.11 L260.25,125.22 L259.55,122.33 L263.24,121.44 L263.95,124.32 L264.65,127.2 L265.35,130.09 L266.06,132.97 L266.77,135.86 L267.47,138.74 L268.18,141.62 L268.9,144.5 L269.61,147.39 L270.32,150.27 L271.04,153.15 L271.76,156.03 L272.47,158.91 L273.19,161.79 L273.92,164.67 L274.64,167.55 L275.36,170.43 L276.09,173.31Z" fill="#fff" fill-opacity="0.3"/><path d="M284.23,171.25 L283.51,168.38 L282.78,165.5 L282.06,162.63 L281.34,159.75 L280.62,156.88 L279.91,154 L279.19,151.12 L278.48,148.24 L277.76,145.37 L277.05,142.49 L276.34,139.61 L275.63,136.73 L274.92,133.85 L274.22,130.97 L273.51,128.09 L272.81,125.21 L272.11,122.33 L271.41,119.45 L275.1,118.56 L275.8,121.43 L276.5,124.31 L277.2,127.19 L277.91,130.07 L278.61,132.95 L279.32,135.82 L280.03,138.7 L280.74,141.58 L281.45,144.45 L282.16,147.33 L282.88,150.21 L283.59,153.08 L284.31,155.96 L285.03,158.83 L285.75,161.7 L286.47,164.58 L287.19,167.45 L287.92,170.32Z" fill="#000" fill-opacity="0.3"/></g>
<clipPath id="c5"><path d="M272.72,171.42 L273.5,174.49 L274.27,177.56 L275.05,180.62 L275.83,183.69 L276.61,186.75 L277.39,189.82 L278.17,192.88 L278.96,195.95 L279.74,199.01 L280.53,202.08 L281.32,205.14 L282.11,208.2 L282.91,211.26 L291.53,214.22 L296.46,207.75 L295.67,204.7 L294.88,201.64 L294.09,198.58 L293.3,195.53 L292.52,192.47 L291.74,189.41 L290.95,186.36 L290.18,183.3 L289.4,180.24 L288.62,177.18 L287.85,174.12 L287.07,171.06 L286.3,168Z"/></clipPath>
<path d="M272.72,171.42 L273.5,174.49 L274.27,177.56 L275.05,180.62 L275.83,183.69 L276.61,186.75 L277.39,189.82 L278.17,192.88 L278.96,195.95 L279.74,199.01 L280.53,202.08 L281.32,205.14 L282.11,208.2 L282.91,211.26 L291.53,214.22 L296.46,207.75 L295.67,204.7 L294.88,201.64 L294.09,198.58 L293.3,195.53 L292.52,192.47 L291.74,189.41 L290.95,186.36 L290.18,183.3 L289.4,180.24 L288.62,177.18 L287.85,174.12 L287.07,171.06 L286.3,168Z" fill="#0000ff"/>
<g clip-path="url(#c5)"><path d="M283.95,219.24 L283.17,216.28 L282.4,213.31 L281.64,210.35 L280.87,207.38 L280.1,204.42 L279.34,201.45 L278.58,198.49 L277.82,195.52 L277.06,192.55 L276.3,189.59 L275.54,186.62 L274.79,183.65 L274.03,180.68 L273.28,177.72 L272.53,174.75 L271.78,171.78 L271.04,168.81 L274.72,167.88 L275.47,170.85 L276.22,173.82 L276.97,176.78 L277.72,179.75 L278.47,182.72 L279.22,185.68 L279.98,188.65 L280.74,191.61 L281.5,194.58 L282.26,197.54 L283.02,200.51 L283.78,203.47 L284.55,206.43 L285.31,209.4 L286.08,212.36 L286.85,215.32 L287.62,218.28Z" fill="#fff" fill-opacity="0.3"/><path d="M295.75,216.16 L294.98,213.21 L294.21,210.25 L293.45,207.29 L292.68,204.33 L291.92,201.37 L291.15,198.41 L290.39,195.45 L289.63,192.49 L288.88,189.53 L288.12,186.57 L287.36,183.61 L286.61,180.65 L285.86,177.69 L285.11,174.72 L284.36,171.76 L283.61,168.8 L282.87,165.83 L286.55,164.91 L287.3,167.87 L288.05,170.83 L288.79,173.79 L289.54,176.75 L290.29,179.71 L291.05,182.67 L291.8,185.63 L292.56,188.59 L293.32,191.55 L294.07,194.51 L294.83,197.47 L295.6,200.42 L296.36,203.38 L297.12,206.34 L297.89,209.29 L298.66,212.25 L299.43,215.2Z" fill="#000" fill-opacity="0.3"/></g>
<clipPath id="c6"><path d="M284.24,216.42 L285.01,219.38 L285.79,222.33 L286.56,225.28 L287.33,228.24 L288.11,231.19 L288.88,234.14 L289.66,237.1 L290.44,240.05 L291.22,243 L292.01,245.95 L292.79,248.9 L293.58,251.85 L294.37,254.8 L295.15,257.75 L295.95,260.7 L296.74,263.65 L297.53,266.6 L298.33,269.55 L299.12,272.5 L299.92,275.44 L300.72,278.39 L301.52,281.34 L310.18,284.19 L315.03,277.66 L314.23,274.72 L313.43,271.78 L312.64,268.84 L311.84,265.9 L311.05,262.96 L310.26,260.02 L309.47,257.07 L308.68,254.13 L307.89,251.19 L307.11,248.25 L306.32,245.3 L305.54,242.36 L304.76,239.41 L303.98,236.47 L303.2,233.52 L302.42,230.58 L301.65,227.63 L300.87,224.69 L300.1,221.74 L299.33,218.79 L298.56,215.84 L297.79,212.9Z"/></clipPath>
<path d="M284.24,216.42 L285.01,219.38 L285.79,222.33 L286.56,225.28 L287.33,228.24 L288.11,231.19 L288.88,234.14 L289.66,237.1 L290.44,240.05 L291.22,243 L292.01,245.95 L292.79,248.9 L293.58,251.85 L294.37,254.8 L295.15,257.75 L295.95,260.7 L296.74,263.65 L297.53,266.6 L298.33,269.55 L299.12,272.5 L299.92,275.44 L300.72,278.39 L301.52,281.34 L310.18,284.19 L315.03,277.66 L314.23,274.72 L313.43,271.78 L312.64,268.84 L311.84,265.9 L311.05,262.96 L310.26,260.02 L309.47,257.07 L308.68,254.13 L307.89,251.19 L307.11,248.25 L306.32,245.3 L305.54,242.36 L304.76,239.41 L303.98,236.47 L303.2,233.52 L302.42,230.58 L301.65,227.63 L300.87,224.69 L300.1,221.74 L299.33,218.79 L298.56,215.84 L297.79,212.9Z" fill="#0000ff"/>
<g clip-path="url(#c6)"><path d="M302.66,289.3 L301.87,286.4 L301.08,283.5 L300.29,280.6 L299.5,277.71 L298.71,274.81 L297.93,271.91 L297.14,269 L296.36,266.1 L295.58,263.2 L294.8,260.3 L294.02,257.4 L293.25,254.5 L292.47,251.59 L291.7,248.69 L290.93,245.79 L290.16,242.88 L289.39,239.98 L288.62,237.07 L287.86,234.17 L287.09,231.26 L286.33,228.36 L285.57,225.45 L284.81,222.54 L284.05,219.63 L283.29,216.73 L282.54,213.82 L286.21,212.86 L286.97,215.77 L287.73,218.68 L288.48,221.58 L289.24,224.49 L290,227.39 L290.77,230.3 L291.53,233.2 L292.3,236.1 L293.06,239.01 L293.83,241.91 L294.6,244.81 L295.37,247.71 L296.15,250.61 L296.92,253.52 L297.7,256.42 L298.47,259.32 L299.25,262.22 L300.03,265.12 L300.81,268.01 L301.6,270.91 L302.38,273.81 L303.17,276.71 L303.95,279.61 L304.74,282.5 L305.53,285.4 L306.32,288.3Z" fill="#fff" fill-opacity="0.3"/><path d="M314.43,286.08 L313.63,283.19 L312.85,280.3 L312.06,277.4 L311.27,274.51 L310.49,271.62 L309.7,268.72 L308.92,265.83 L308.14,262.93 L307.36,260.04 L306.59,257.14 L305.81,254.24 L305.04,251.35 L304.26,248.45 L303.49,245.55 L302.72,242.66 L301.95,239.76 L301.18,236.86 L300.42,233.96 L299.65,231.06 L298.89,228.16 L298.13,225.26 L297.37,222.36 L296.61,219.46 L295.85,216.56 L295.1,213.66 L294.34,210.75 L298.02,209.8 L298.78,212.7 L299.53,215.6 L300.29,218.5 L301.05,221.4 L301.81,224.3 L302.57,227.19 L303.33,230.09 L304.09,232.99 L304.86,235.89 L305.62,238.78 L306.39,241.68 L307.16,244.58 L307.93,247.47 L308.71,250.37 L309.48,253.26 L310.26,256.16 L311.03,259.05 L311.81,261.94 L312.59,264.84 L313.37,267.73 L314.16,270.62 L314.94,273.51 L315.73,276.41 L316.51,279.3 L317.3,282.19 L318.09,285.08Z" fill="#000" fill-opacity="0.3"/></g>
<clipPath id="c7"><path d="M302.92,286.48 L303.72,289.41 L304.53,292.34 L305.33,295.27 L306.14,298.2 L306.94,301.13 L307.75,304.06 L308.56,306.98 L309.37,309.91 L310.19,312.84 L311,315.76 L311.82,318.69 L312.63,321.62 L313.45,324.54 L314.27,327.47 L315.1,330.39 L315.92,333.32 L316.74,336.24 L317.57,339.16 L318.4,342.09 L319.23,345.01 L320.06,347.93 L320.89,350.85 L321.72,353.78 L322.56,356.7 L323.4,359.62 L324.23,362.54 L325.07,365.46 L325.92,368.38 L326.76,371.29 L335.46,374.01 L340.21,367.41 L339.37,364.5 L338.53,361.58 L337.69,358.67 L336.85,355.76 L336.02,352.84 L335.19,349.93 L334.35,347.02 L333.52,344.1 L332.69,341.18 L331.87,338.27 L331.04,335.35 L330.22,332.44 L329.39,329.52 L328.57,326.6 L327.75,323.68 L326.93,320.77 L326.12,317.85 L325.3,314.93 L324.49,312.01 L323.68,309.09 L322.86,306.17 L322.05,303.25 L321.25,300.33 L320.44,297.4 L319.63,294.48 L318.83,291.56 L318.03,288.64 L317.23,285.71 L316.43,282.79Z"/></clipPath>
<path d="M302.92,286.48 L303.72,289.41 L304.53,292.34 L305.33,295.27 L306.14,298.2 L306.94,301.13 L307.75,304.06 L308.56,306.98 L309.37,309.91 L310.19,312.84 L311,315.76 L311.82,318.69 L312.63,321.62 L313.45,324.54 L314.27,327.47 L315.1,330.39 L315.92,333.32 L316.74,336.24 L317.57,339.16 L318.4,342.09 L319.23,345.01 L320.06,347.93 L320.89,350.85 L321.72,353.78 L322.56,356.7 L323.4,359.62 L324.23,362.54 L325.07,365.46 L325.92,368.38 L326.76,371.29 L335.46,374.01 L340.21,367.41 L339.37,364.5 L338.53,361.58 L337.69,358.67 L336.85,355.76 L336.02,352.84 L335.19,349.93 L334.35,347.02 L333.52,344.1 L332.69,341.18 L331.87,338.27 L331.04,335.35 L330.22,332.44 L329.39,329.52 L328.57,326.6 L327.75,323.68 L326.93,320.77 L326.12,317.85 L325.3,314.93 L324.49,312.01 L323.68,309.09 L322.86,306.17 L322.05,303.25 L321.25,300.33 L320.44,297.4 L319.63,294.48 L318.83,291.56 L318.03,288.64 L317.23,285.71 L316.43,282.79Z" fill="#0000ff"/>
<g clip-path="url(#c7)"><path d="M328.02,379.24 L327.18,376.36 L326.35,373.47 L325.51,370.59 L324.68,367.71 L323.85,364.82 L323.02,361.94 L322.19,359.05 L321.37,356.17 L320.54,353.28 L319.72,350.4 L318.9,347.51 L318.08,344.62 L317.26,341.73 L316.44,338.85 L315.62,335.96 L314.81,333.07 L314,330.18 L313.19,327.29 L312.37,324.4 L311.57,321.51 L310.76,318.62 L309.95,315.73 L309.15,312.84 L308.35,309.94 L307.54,307.05 L306.74,304.16 L305.94,301.27 L305.15,298.37 L304.35,295.48 L303.56,292.58 L302.76,289.69 L301.97,286.79 L301.18,283.9 L304.85,282.9 L305.64,285.79 L306.43,288.69 L307.22,291.58 L308.02,294.47 L308.81,297.36 L309.61,300.26 L310.41,303.15 L311.21,306.04 L312.01,308.93 L312.81,311.82 L313.61,314.71 L314.42,317.6 L315.23,320.49 L316.03,323.38 L316.84,326.26 L317.66,329.15 L318.47,332.04 L319.28,334.93 L320.1,337.81 L320.91,340.7 L321.73,343.58 L322.55,346.47 L323.37,349.35 L324.2,352.24 L325.02,355.12 L325.85,358.01 L326.67,360.89 L327.5,363.77 L328.33,366.65 L329.16,369.54 L330,372.42 L330.83,375.3 L331.67,378.18Z" fill="#fff" fill-opacity="0.3"/><path d="M339.73,375.84 L338.9,372.96 L338.07,370.08 L337.23,367.21 L336.4,364.33 L335.58,361.45 L334.75,358.57 L333.92,355.69 L333.1,352.81 L332.27,349.93 L331.45,347.05 L330.63,344.17 L329.81,341.29 L329,338.41 L328.18,335.53 L327.37,332.64 L326.55,329.76 L325.74,326.88 L324.93,323.99 L324.12,321.11 L323.32,318.22 L322.51,315.34 L321.71,312.45 L320.9,309.57 L320.1,306.68 L319.3,303.8 L318.5,300.91 L317.71,298.02 L316.91,295.13 L316.12,292.25 L315.32,289.36 L314.53,286.47 L313.74,283.58 L312.95,280.69 L316.62,279.69 L317.41,282.58 L318.2,285.47 L318.99,288.35 L319.78,291.24 L320.57,294.13 L321.37,297.01 L322.17,299.9 L322.96,302.78 L323.76,305.67 L324.56,308.55 L325.37,311.43 L326.17,314.32 L326.98,317.2 L327.78,320.08 L328.59,322.97 L329.4,325.85 L330.21,328.73 L331.02,331.61 L331.84,334.49 L332.65,337.37 L333.47,340.25 L334.29,343.13 L335.11,346.01 L335.93,348.89 L336.75,351.77 L337.58,354.64 L338.4,357.52 L339.23,360.4 L340.06,363.28 L340.89,366.15 L341.72,369.03 L342.55,371.9 L343.38,374.78Z" fill="#000" fill-opacity="0.3"/></g>
<clipPath id="c8"><path d="M248.67,-8.98 L249.33,-6 L249.98,-3.03 L250.64,-0.06 L251.3,2.92 L251.96,5.89 L252.62,8.86 L253.29,11.83 L253.95,14.8 L254.62,17.77 L255.29,20.74 L255.96,23.71 L256.63,26.68 L257.3,29.65 L257.97,32.62 L258.65,35.59 L259.33,38.55 L260.01,41.52 L260.69,44.49 L261.37,47.46 L262.05,50.42 L262.74,53.39 L263.42,56.35 L264.11,59.32 L264.8,62.28 L265.49,65.25 L279.12,62.07 L278.44,59.11 L277.75,56.15 L277.06,53.19 L276.38,50.23 L275.69,47.28 L275.01,44.32 L274.33,41.36 L273.65,38.4 L272.98,35.43 L272.3,32.47 L271.62,29.51 L270.95,26.55 L270.28,23.59 L269.61,20.63 L268.94,17.66 L268.28,14.7 L267.61,11.74 L266.95,8.77 L266.29,5.81 L265.62,2.84 L264.97,-0.12 L264.31,-3.09 L263.65,-6.05 L263,-9.02 L262.34,-11.98Z"/></clipPath>
<path d="M248.67,-8.98 L249.33,-6 L249.98,-3.03 L250.64,-0.06 L251.3,2.92 L251.96,5.89 L252.62,8.86 L253.29,11.83 L253.95,14.8 L254.62,17.77 L255.29,20.74 L255.96,23.71 L256.63,26.68 L257.3,29.65 L257.97,32.62 L258.65,35.59 L259.33,38.55 L260.01,41.52 L260.69,44.49 L261.37,47.46 L262.05,50.42 L262.74,53.39 L263.42,56.35 L264.11,59.32 L264.8,62.28 L265.49,65.25 L279.12,62.07 L278.44,59.11 L277.75,56.15 L277.06,53.19 L276.38,50.23 L275.69,47.28 L275.01,44.32 L274.33,41.36 L273.65,38.4 L272.98,35.43 L272.3,32.47 L271.62,29.51 L270.95,26.55 L270.28,23.59 L269.61,20.63 L268.94,17.66 L268.28,14.7 L267.61,11.74 L266.95,8.77 L266.29,5.81 L265.62,2.84 L264.97,-0.12 L264.31,-3.09 L263.65,-6.05 L263,-9.02 L262.34,-11.98Z" fill="#4682b4"/>
<g clip-path="url(#c8)"><path d="M265.19,68.34 L264.49,65.38 L263.81,62.42 L263.12,59.47 L262.43,56.51 L261.75,53.55 L261.06,50.59 L260.38,47.63 L259.7,44.67 L259.02,41.71 L258.35,38.75 L257.67,35.79 L257,32.83 L256.32,29.87 L255.65,26.9 L254.98,23.94 L254.31,20.98 L253.65,18.02 L252.98,15.05 L252.32,12.09 L251.66,9.13 L251,6.16 L250.34,3.2 L249.68,0.23 L249.02,-2.73 L248.37,-5.7 L247.72,-8.66 L247.06,-11.63 L250.78,-12.45 L251.43,-9.48 L252.08,-6.52 L252.73,-3.55 L253.39,-0.59 L254.05,2.37 L254.7,5.34 L255.37,8.3 L256.03,11.26 L256.69,14.22 L257.35,17.18 L258.02,20.14 L258.69,23.1 L259.36,26.07 L260.03,29.03 L260.7,31.98 L261.38,34.94 L262.05,37.9 L262.73,40.86 L263.41,43.82 L264.09,46.78 L264.77,49.74 L265.45,52.69 L266.13,55.65 L266.82,58.61 L267.51,61.56 L268.2,64.52 L268.89,67.47Z" fill="#fff" fill-opacity="0.3"/><path d="M277.07,65.56 L276.38,62.61 L275.69,59.66 L275,56.71 L274.32,53.75 L273.63,50.8 L272.95,47.85 L272.27,44.89 L271.59,41.94 L270.92,38.99 L270.24,36.03 L269.56,33.08 L268.89,30.12 L268.22,27.17 L267.55,24.21 L266.88,21.25 L266.22,18.3 L265.55,15.34 L264.89,12.38 L264.22,9.43 L263.56,6.47 L262.9,3.51 L262.25,0.55 L261.59,-2.41 L260.94,-5.37 L260.28,-8.33 L259.63,-11.29 L258.98,-14.25 L262.69,-15.06 L263.34,-12.1 L263.99,-9.14 L264.65,-6.19 L265.3,-3.23 L265.96,-0.27 L266.61,2.68 L267.27,5.64 L267.93,8.6 L268.59,11.55 L269.26,14.51 L269.92,17.46 L270.59,20.42 L271.26,23.37 L271.93,26.33 L272.6,29.28 L273.27,32.23 L273.94,35.19 L274.62,38.14 L275.3,41.09 L275.97,44.04 L276.65,46.99 L277.34,49.94 L278.02,52.9 L278.7,55.85 L279.39,58.8 L280.08,61.75 L280.77,64.7Z" fill="#000" fill-opacity="0.3"/></g>
<clipPath id="c9"><path d="M265.49,65.25 L266.18,68.18 L266.86,71.11 L267.55,74.04 L268.24,76.97 L268.93,79.9 L269.62,82.83 L270.31,85.76 L271.01,88.69 L271.71,91.61 L272.4,94.54 L273.1,97.47 L273.8,100.4 L274.51,103.32 L275.21,106.25 L275.91,109.17 L276.62,112.1 L277.33,115.03 L278.04,117.95 L278.75,120.87 L292.35,117.56 L291.64,114.65 L290.94,111.73 L290.23,108.81 L289.52,105.89 L288.82,102.97 L288.12,100.05 L287.42,97.13 L286.72,94.21 L286.02,91.29 L285.32,88.37 L284.63,85.45 L283.94,82.53 L283.24,79.61 L282.55,76.68 L281.87,73.76 L281.18,70.84 L280.49,67.92 L279.81,64.99 L279.12,62.07Z"/></clipPath>
<path d="M265.49,65.25 L266.18,68.18 L266.86,71.11 L267.55,74.04 L268.24,76.97 L268.93,79.9 L269.62,82.83 L270.31,85.76 L271.01,88.69 L271.71,91.61 L272.4,94.54 L273.1,97.47 L273.8,100.4 L274.51,103.32 L275.21,106.25 L275.91,109.17 L276.62,112.1 L277.33,115.03 L278.04,117.95 L278.75,120.87 L292.35,117.56 L291.64,114.65 L290.94,111.73 L290.23,108.81 L289.52,105.89 L288.82,102.97 L288.12,100.05 L287.42,97.13 L286.72,94.21 L286.02,91.29 L285.32,88.37 L284.63,85.45 L283.94,82.53 L283.24,79.61 L282.55,76.68 L281.87,73.76 L281.18,70.84 L280.49,67.92 L279.81,64.99 L279.12,62.07Z" fill="#0000ff"/>
<g clip-path="url(#c9)"><path d="M278.47,123.97 L277.76,121.05 L277.05,118.13 L276.35,115.21 L275.64,112.29 L274.93,109.37 L274.23,106.45 L273.53,103.53 L272.83,100.61 L272.13,97.69 L271.43,94.77 L270.73,91.85 L270.04,88.93 L269.34,86 L268.65,83.08 L267.96,80.16 L267.27,77.24 L266.59,74.31 L265.9,71.39 L265.21,68.46 L264.53,65.54 L263.85,62.61 L267.55,61.75 L268.23,64.68 L268.92,67.6 L269.6,70.52 L270.28,73.44 L270.97,76.37 L271.66,79.29 L272.35,82.21 L273.04,85.13 L273.74,88.05 L274.43,90.97 L275.13,93.89 L275.82,96.81 L276.52,99.73 L277.22,102.65 L277.92,105.56 L278.63,108.48 L279.33,111.4 L280.04,114.32 L280.75,117.23 L281.46,120.15 L282.17,123.07Z" fill="#fff" fill-opacity="0.3"/><path d="M290.33,121.07 L289.62,118.16 L288.91,115.25 L288.2,112.34 L287.5,109.42 L286.79,106.51 L286.09,103.6 L285.39,100.68 L284.69,97.77 L283.99,94.85 L283.3,91.94 L282.6,89.02 L281.91,86.11 L281.22,83.19 L280.53,80.27 L279.84,77.36 L279.15,74.44 L278.46,71.52 L277.78,68.6 L277.09,65.69 L276.41,62.77 L275.73,59.85 L279.43,58.99 L280.11,61.9 L280.79,64.82 L281.48,67.74 L282.16,70.65 L282.85,73.57 L283.53,76.48 L284.22,79.4 L284.91,82.31 L285.61,85.23 L286.3,88.14 L286.99,91.06 L287.69,93.97 L288.39,96.88 L289.09,99.8 L289.79,102.71 L290.49,105.62 L291.19,108.53 L291.9,111.44 L292.6,114.35 L293.31,117.26 L294.02,120.17Z" fill="#000" fill-opacity="0.3"/></g>
<clipPath id="c10"><path d="M320.29,281.74 L321.07,284.61 L321.86,287.48 L322.65,290.35 L323.44,293.22 L324.23,296.09 L325.02,298.96 L325.81,301.83 L326.61,304.69 L327.4,307.56 L328.2,310.43 L329,313.3 L329.8,316.16 L330.6,319.03 L331.41,321.9 L332.21,324.76 L333.02,327.63 L333.82,330.49 L334.63,333.36 L335.44,336.22 L336.26,339.08 L337.07,341.95 L337.88,344.81 L338.7,347.67 L339.52,350.53 L340.34,353.39 L341.16,356.26 L341.98,359.12 L342.8,361.98 L343.63,364.84 L344.45,367.7 L345.28,370.55 L358.73,366.66 L357.9,363.81 L357.08,360.95 L356.26,358.1 L355.43,355.25 L354.61,352.39 L353.8,349.54 L352.98,346.68 L352.16,343.83 L351.35,340.97 L350.54,338.12 L349.72,335.26 L348.91,332.4 L348.11,329.55 L347.3,326.69 L346.49,323.83 L345.69,320.97 L344.88,318.11 L344.08,315.25 L343.28,312.39 L342.48,309.53 L341.69,306.67 L340.89,303.81 L340.1,300.95 L339.3,298.09 L338.51,295.23 L337.72,292.37 L336.93,289.5 L336.15,286.64 L335.36,283.78 L334.58,280.91 L333.79,278.05Z"/></clipPath>
<path d="M320.29,281.74 L321.07,284.61 L321.86,287.48 L322.65,290.35 L323.44,293.22 L324.23,296.09 L325.02,298.96 L325.81,301.83 L326.61,304.69 L327.4,307.56 L328.2,310.43 L329,313.3 L329.8,316.16 L330.6,319.03 L331.41,321.9 L332.21,324.76 L333.02,327.63 L333.82,330.49 L334.63,333.36 L335.44,336.22 L336.26,339.08 L337.07,341.95 L337.88,344.81 L338.7,347.67 L339.52,350.53 L340.34,353.39 L341.16,356.26 L341.98,359.12 L342.8,361.98 L343.63,364.84 L344.45,367.7 L345.28,370.55 L358.73,366.66 L357.9,363.81 L357.08,360.95 L356.26,358.1 L355.43,355.25 L354.61,352.39 L353.8,349.54 L352.98,346.68 L352.16,343.83 L351.35,340.97 L350.54,338.12 L349.72,335.26 L348.91,332.4 L348.11,329.55 L347.3,326.69 L346.49,323.83 L345.69,320.97 L344.88,318.11 L344.08,315.25 L343.28,312.39 L342.48,309.53 L341.69,306.67 L340.89,303.81 L340.1,300.95 L339.3,298.09 L338.51,295.23 L337.72,292.37 L336.93,289.5 L336.15,286.64 L335.36,283.78 L334.58,280.91 L333.79,278.05Z" fill="#c0c0c0"/>
<g clip-path="url(#c10)"><path d="M345.14,373.66 L344.31,370.8 L343.48,367.94 L342.66,365.08 L341.83,362.23 L341.01,359.37 L340.19,356.51 L339.37,353.65 L338.55,350.79 L337.73,347.93 L336.92,345.07 L336.1,342.21 L335.29,339.35 L334.48,336.48 L333.67,333.62 L332.86,330.76 L332.05,327.9 L331.25,325.03 L330.44,322.17 L329.64,319.3 L328.84,316.44 L328.04,313.58 L327.24,310.71 L326.44,307.84 L325.65,304.98 L324.85,302.11 L324.06,299.24 L323.27,296.38 L322.48,293.51 L321.69,290.64 L320.9,287.77 L320.12,284.9 L319.33,282.03 L318.55,279.16 L322.22,278.16 L323,281.03 L323.78,283.9 L324.57,286.77 L325.35,289.63 L326.14,292.5 L326.93,295.37 L327.72,298.23 L328.51,301.1 L329.31,303.96 L330.1,306.83 L330.9,309.69 L331.7,312.55 L332.5,315.42 L333.3,318.28 L334.1,321.14 L334.91,324 L335.71,326.87 L336.52,329.73 L337.33,332.59 L338.14,335.45 L338.95,338.31 L339.76,341.17 L340.57,344.03 L341.39,346.89 L342.21,349.74 L343.02,352.6 L343.84,355.46 L344.66,358.32 L345.49,361.17 L346.31,364.03 L347.14,366.89 L347.96,369.74 L348.79,372.6Z" fill="#fff" fill-opacity="0.3"/><path d="M356.86,370.25 L356.03,367.4 L355.2,364.55 L354.38,361.7 L353.56,358.85 L352.74,355.99 L351.92,353.14 L351.1,350.29 L350.28,347.43 L349.47,344.58 L348.65,341.73 L347.84,338.87 L347.03,336.01 L346.22,333.16 L345.41,330.3 L344.6,327.45 L343.8,324.59 L342.99,321.73 L342.19,318.87 L341.39,316.01 L340.59,313.16 L339.79,310.3 L338.99,307.44 L338.2,304.58 L337.4,301.72 L336.61,298.86 L335.82,295.99 L335.03,293.13 L334.24,290.27 L333.45,287.41 L332.67,284.55 L331.88,281.68 L331.1,278.82 L330.32,275.96 L333.99,274.96 L334.77,277.82 L335.55,280.68 L336.33,283.54 L337.12,286.4 L337.9,289.26 L338.69,292.12 L339.48,294.98 L340.27,297.84 L341.06,300.7 L341.86,303.56 L342.65,306.42 L343.45,309.28 L344.25,312.13 L345.05,314.99 L345.85,317.85 L346.65,320.7 L347.45,323.56 L348.26,326.41 L349.07,329.27 L349.87,332.12 L350.68,334.98 L351.49,337.83 L352.31,340.68 L353.12,343.54 L353.93,346.39 L354.75,349.24 L355.57,352.09 L356.39,354.94 L357.21,357.8 L358.03,360.65 L358.85,363.5 L359.68,366.35 L360.51,369.19Z" fill="#000" fill-opacity="0.3"/></g>
<clipPath id="c11"><path d="M316.36,431.65 L315.45,428.61 L314.55,425.58 L313.64,422.54 L312.74,419.51 L311.84,416.47 L310.94,413.44 L310.05,410.4 L309.15,407.37 L308.26,404.33 L307.37,401.29 L313.24,394.31 L320.8,397.35 L321.69,400.38 L322.58,403.41 L323.48,406.44 L324.37,409.47 L325.27,412.5 L326.16,415.53 L327.06,418.56 L327.96,421.58 L328.87,424.61 L329.77,427.64Z"/></clipPath>
<path d="M316.36,431.65 L315.45,428.61 L314.55,425.58 L313.64,422.54 L312.74,419.51 L311.84,416.47 L310.94,413.44 L310.05,410.4 L309.15,407.37 L308.26,404.33 L307.37,401.29 L313.24,394.31 L320.8,397.35 L321.69,400.38 L322.58,403.41 L323.48,406.44 L324.37,409.47 L325.27,412.5 L326.16,415.53 L327.06,418.56 L327.96,421.58 L328.87,424.61 L329.77,427.64Z" fill="#ff0000"/>
<g clip-path="url(#c11)"><path d="M316.25,434.77 L315.37,431.85 L314.5,428.93 L313.63,426.01 L312.76,423.09 L311.9,420.17 L311.03,417.25 L310.17,414.33 L309.3,411.41 L308.44,408.49 L307.58,405.57 L306.72,402.65 L305.87,399.72 L305.01,396.8 L304.16,393.88 L307.81,392.81 L308.66,395.74 L309.51,398.66 L310.37,401.58 L311.23,404.5 L312.09,407.42 L312.95,410.34 L313.81,413.26 L314.67,416.18 L315.54,419.09 L316.41,422.01 L317.27,424.93 L318.14,427.85 L319.01,430.76 L319.89,433.68Z" fill="#fff" fill-opacity="0.3"/><path d="M327.93,431.27 L327.06,428.36 L326.19,425.44 L325.32,422.53 L324.46,419.62 L323.59,416.7 L322.73,413.79 L321.87,410.88 L321,407.96 L320.15,405.05 L319.29,402.13 L318.43,399.21 L317.58,396.3 L316.72,393.38 L315.87,390.46 L319.52,389.4 L320.37,392.31 L321.22,395.23 L322.08,398.14 L322.93,401.06 L323.79,403.97 L324.65,406.89 L325.51,409.8 L326.37,412.71 L327.23,415.62 L328.1,418.54 L328.97,421.45 L329.83,424.36 L330.7,427.27 L331.57,430.18Z" fill="#000" fill-opacity="0.3"/></g>
<clipPath id="c12"><path d="M346.89,530.67 L345.99,527.84 L345.09,525.01 L344.19,522.18 L343.3,519.34 L342.41,516.51 L341.51,513.68 L340.62,510.85 L339.74,508.01 L338.85,505.18 L337.96,502.35 L337.08,499.51 L336.19,496.68 L335.31,493.84 L334.43,491 L333.55,488.17 L332.68,485.33 L331.8,482.49 L330.92,479.66 L330.05,476.82 L329.18,473.98 L328.31,471.14 L327.44,468.3 L326.57,465.46 L325.71,462.62 L324.84,459.78 L323.98,456.94 L323.11,454.1 L322.25,451.26 L321.39,448.41 L320.54,445.57 L319.68,442.73 L325.5,435.7 L333.09,438.69 L333.94,441.53 L334.8,444.37 L335.65,447.2 L336.51,450.04 L337.37,452.87 L338.23,455.71 L339.1,458.54 L339.96,461.37 L340.83,464.21 L341.69,467.04 L342.56,469.87 L343.43,472.7 L344.3,475.54 L345.18,478.37 L346.05,481.2 L346.93,484.03 L347.8,486.86 L348.68,489.69 L349.56,492.51 L350.44,495.34 L351.33,498.17 L352.21,501 L353.09,503.83 L353.98,506.65 L354.87,509.48 L355.76,512.3 L356.65,515.13 L357.54,517.96 L358.44,520.78 L359.33,523.6 L360.23,526.43Z"/></clipPath>
<path d="M346.89,530.67 L345.99,527.84 L345.09,525.01 L344.19,522.18 L343.3,519.34 L342.41,516.51 L341.51,513.68 L340.62,510.85 L339.74,508.01 L338.85,505.18 L337.96,502.35 L337.08,499.51 L336.19,496.68 L335.31,493.84 L334.43,491 L333.55,488.17 L332.68,485.33 L331.8,482.49 L330.92,479.66 L330.05,476.82 L329.18,473.98 L328.31,471.14 L327.44,468.3 L326.57,465.46 L325.71,462.62 L324.84,459.78 L323.98,456.94 L323.11,454.1 L322.25,451.26 L321.39,448.41 L320.54,445.57 L319.68,442.73 L325.5,435.7 L333.09,438.69 L333.94,441.53 L334.8,444.37 L335.65,447.2 L336.51,450.04 L337.37,452.87 L338.23,455.71 L339.1,458.54 L339.96,461.37 L340.83,464.21 L341.69,467.04 L342.56,469.87 L343.43,472.7 L344.3,475.54 L345.18,478.37 L346.05,481.2 L346.93,484.03 L347.8,486.86 L348.68,489.69 L349.56,492.51 L350.44,495.34 L351.33,498.17 L352.21,501 L353.09,503.83 L353.98,506.65 L354.87,509.48 L355.76,512.3 L356.65,515.13 L357.54,517.96 L358.44,520.78 L359.33,523.6 L360.23,526.43Z" fill="#ff0000"/>
<g clip-path="url(#c12)"><path d="M346.83,533.79 L345.91,530.9 L344.99,528.02 L344.08,525.13 L343.16,522.24 L342.25,519.35 L341.34,516.46 L340.43,513.56 L339.52,510.67 L338.61,507.78 L337.71,504.89 L336.81,502 L335.9,499.1 L335,496.21 L334.1,493.31 L333.2,490.42 L332.31,487.52 L331.41,484.63 L330.52,481.73 L329.63,478.84 L328.73,475.94 L327.85,473.04 L326.96,470.14 L326.07,467.25 L325.19,464.35 L324.3,461.45 L323.42,458.55 L322.54,455.65 L321.66,452.75 L320.78,449.85 L319.91,446.95 L319.03,444.04 L318.16,441.14 L317.29,438.24 L316.42,435.34 L320.06,434.25 L320.93,437.15 L321.8,440.05 L322.67,442.95 L323.54,445.85 L324.42,448.75 L325.3,451.65 L326.18,454.55 L327.06,457.44 L327.94,460.34 L328.82,463.24 L329.71,466.14 L330.59,469.03 L331.48,471.93 L332.37,474.82 L333.26,477.72 L334.15,480.61 L335.04,483.51 L335.94,486.4 L336.83,489.29 L337.73,492.19 L338.63,495.08 L339.53,497.97 L340.43,500.86 L341.34,503.75 L342.24,506.64 L343.15,509.54 L344.06,512.42 L344.96,515.31 L345.88,518.2 L346.79,521.09 L347.7,523.98 L348.62,526.87 L349.53,529.75 L350.45,532.64Z" fill="#fff" fill-opacity="0.3"/><path d="M358.45,530.09 L357.54,527.21 L356.62,524.33 L355.71,521.44 L354.8,518.56 L353.89,515.67 L352.98,512.79 L352.07,509.91 L351.16,507.02 L350.26,504.13 L349.35,501.25 L348.45,498.36 L347.55,495.47 L346.65,492.58 L345.75,489.7 L344.86,486.81 L343.96,483.92 L343.07,481.03 L342.18,478.14 L341.29,475.25 L340.4,472.36 L339.51,469.47 L338.62,466.57 L337.74,463.68 L336.86,460.79 L335.97,457.89 L335.09,455 L334.21,452.11 L333.34,449.21 L332.46,446.32 L331.59,443.42 L330.71,440.53 L329.84,437.63 L328.97,434.73 L328.1,431.84 L331.74,430.74 L332.61,433.64 L333.48,436.54 L334.35,439.43 L335.22,442.32 L336.1,445.22 L336.97,448.11 L337.85,451 L338.73,453.9 L339.61,456.79 L340.49,459.68 L341.37,462.57 L342.26,465.46 L343.14,468.35 L344.03,471.24 L344.92,474.13 L345.81,477.02 L346.7,479.91 L347.59,482.79 L348.49,485.68 L349.38,488.57 L350.28,491.46 L351.18,494.34 L352.08,497.23 L352.98,500.11 L353.88,503 L354.79,505.88 L355.69,508.77 L356.6,511.65 L357.51,514.53 L358.42,517.41 L359.33,520.3 L360.24,523.18 L361.16,526.06 L362.08,528.94Z" fill="#000" fill-opacity="0.3"/></g>
<clipPath id="c13"><path d="M380.63,633.64 L379.67,630.81 L378.72,627.98 L377.77,625.15 L376.82,622.31 L375.87,619.48 L374.92,616.65 L373.97,613.82 L373.03,610.98 L372.08,608.15 L371.14,605.32 L370.2,602.48 L369.26,599.65 L368.32,596.81 L367.39,593.97 L366.45,591.14 L365.52,588.3 L364.59,585.46 L363.65,582.62 L362.73,579.79 L361.8,576.95 L360.87,574.11 L359.94,571.27 L359.02,568.43 L358.1,565.59 L357.18,562.75 L356.26,559.9 L355.34,557.06 L354.42,554.22 L353.51,551.38 L352.59,548.53 L351.68,545.69 L350.77,542.84 L349.86,540 L355.56,532.87 L363.19,535.74 L364.1,538.58 L365.01,541.41 L365.92,544.25 L366.83,547.09 L367.75,549.92 L368.66,552.76 L369.58,555.6 L370.5,558.43 L371.41,561.27 L372.34,564.1 L373.26,566.93 L374.18,569.77 L375.1,572.6 L376.03,575.43 L376.96,578.26 L377.89,581.09 L378.82,583.93 L379.75,586.76 L380.68,589.59 L381.62,592.42 L382.55,595.25 L383.49,598.07 L384.43,600.9 L385.37,603.73 L386.31,606.56 L387.25,609.38 L388.2,612.21 L389.14,615.04 L390.09,617.86 L391.04,620.69 L391.99,623.51 L392.94,626.33 L393.89,629.16Z"/></clipPath>
<path d="M380.63,633.64 L379.67,630.81 L378.72,627.98 L377.77,625.15 L376.82,622.31 L375.87,619.48 L374.92,616.65 L373.97,613.82 L373.03,610.98 L372.08,608.15 L371.14,605.32 L370.2,602.48 L369.26,599.65 L368.32,596.81 L367.39,593.97 L366.45,591.14 L365.52,588.3 L364.59,585.46 L363.65,582.62 L362.73,579.79 L361.8,576.95 L360.87,574.11 L359.94,571.27 L359.02,568.43 L358.1,565.59 L357.18,562.75 L356.26,559.9 L355.34,557.06 L354.42,554.22 L353.51,551.38 L352.59,548.53 L351.68,545.69 L350.77,542.84 L349.86,540 L355.56,532.87 L363.19,535.74 L364.1,538.58 L365.01,541.41 L365.92,544.25 L366.83,547.09 L367.75,549.92 L368.66,552.76 L369.58,555.6 L370.5,558.43 L371.41,561.27 L372.34,564.1 L373.26,566.93 L374.18,569.77 L375.1,572.6 L376.03,575.43 L376.96,578.26 L377.89,581.09 L378.82,583.93 L379.75,586.76 L380.68,589.59 L381.62,592.42 L382.55,595.25 L383.49,598.07 L384.43,600.9 L385.37,603.73 L386.31,606.56 L387.25,609.38 L388.2,612.21 L389.14,615.04 L390.09,617.86 L391.04,620.69 L391.99,623.51 L392.94,626.33 L393.89,629.16Z" fill="#ff0000"/>
<g clip-path="url(#c13)"><path d="M380.63,636.76 L379.68,633.96 L378.73,631.15 L377.79,628.35 L376.85,625.54 L375.9,622.73 L374.96,619.92 L374.02,617.12 L373.08,614.31 L372.15,611.5 L371.21,608.69 L370.28,605.88 L369.34,603.07 L368.41,600.26 L367.48,597.45 L366.55,594.64 L365.63,591.82 L364.7,589.01 L363.77,586.2 L362.85,583.38 L361.93,580.57 L361.01,577.76 L360.09,574.94 L359.17,572.13 L358.26,569.31 L357.34,566.49 L356.43,563.68 L355.52,560.86 L354.6,558.04 L353.7,555.22 L352.79,552.41 L351.88,549.59 L350.98,546.77 L350.07,543.95 L349.17,541.13 L348.27,538.31 L347.37,535.48 L346.47,532.66 L350.09,531.51 L350.99,534.33 L351.89,537.15 L352.79,539.97 L353.69,542.79 L354.59,545.61 L355.5,548.42 L356.4,551.24 L357.31,554.06 L358.22,556.87 L359.13,559.69 L360.04,562.51 L360.96,565.32 L361.87,568.13 L362.79,570.95 L363.7,573.76 L364.62,576.58 L365.54,579.39 L366.46,582.2 L367.39,585.01 L368.31,587.82 L369.23,590.63 L370.16,593.44 L371.09,596.25 L372.02,599.06 L372.95,601.87 L373.88,604.68 L374.82,607.49 L375.75,610.3 L376.69,613.1 L377.63,615.91 L378.56,618.72 L379.51,621.52 L380.45,624.33 L381.39,627.13 L382.34,629.94 L383.28,632.74 L384.23,635.55Z" fill="#fff" fill-opacity="0.3"/><path d="M392.19,632.85 L391.24,630.05 L390.3,627.25 L389.35,624.45 L388.41,621.65 L387.47,618.85 L386.53,616.05 L385.59,613.25 L384.66,610.44 L383.72,607.64 L382.79,604.84 L381.85,602.03 L380.92,599.23 L379.99,596.42 L379.07,593.62 L378.14,590.81 L377.21,588.01 L376.29,585.2 L375.37,582.39 L374.44,579.58 L373.52,576.77 L372.61,573.97 L371.69,571.16 L370.77,568.35 L369.86,565.54 L368.95,562.73 L368.03,559.92 L367.12,557.1 L366.21,554.29 L365.31,551.48 L364.4,548.67 L363.5,545.85 L362.59,543.04 L361.69,540.23 L360.79,537.41 L359.89,534.6 L358.99,531.78 L358.1,528.97 L361.72,527.81 L362.61,530.63 L363.51,533.44 L364.41,536.25 L365.31,539.07 L366.21,541.88 L367.11,544.69 L368.02,547.5 L368.92,550.31 L369.83,553.12 L370.74,555.93 L371.65,558.74 L372.56,561.55 L373.47,564.36 L374.39,567.17 L375.3,569.98 L376.22,572.79 L377.14,575.59 L378.06,578.4 L378.98,581.21 L379.9,584.01 L380.82,586.82 L381.75,589.62 L382.67,592.42 L383.6,595.23 L384.53,598.03 L385.46,600.83 L386.39,603.64 L387.33,606.44 L388.26,609.24 L389.2,612.04 L390.13,614.84 L391.07,617.64 L392.01,620.44 L392.95,623.24 L393.9,626.04 L394.84,628.84 L395.79,631.64Z" fill="#000" fill-opacity="0.3"/></g>
<clipPath id="c14"><path d="M299.11,436.8 L298.23,433.86 L297.35,430.92 L296.48,427.98 L295.61,425.04 L294.73,422.1 L293.86,419.15 L292.99,416.21 L292.13,413.27 L291.26,410.32 L290.4,407.38 L289.53,404.43 L288.67,401.49 L302.11,397.56 L302.97,400.5 L303.83,403.44 L304.69,406.38 L305.56,409.31 L306.42,412.25 L307.29,415.18 L308.16,418.12 L309.03,421.06 L309.9,423.99 L310.77,426.92 L311.65,429.86 L312.52,432.79Z"/></clipPath>
<path d="M299.11,436.8 L298.23,433.86 L297.35,430.92 L296.48,427.98 L295.61,425.04 L294.73,422.1 L293.86,419.15 L292.99,416.21 L292.13,413.27 L291.26,410.32 L290.4,407.38 L289.53,404.43 L288.67,401.49 L302.11,397.56 L302.97,400.5 L303.83,403.44 L304.69,406.38 L305.56,409.31 L306.42,412.25 L307.29,415.18 L308.16,418.12 L309.03,421.06 L309.9,423.99 L310.77,426.92 L311.65,429.86 L312.52,432.79Z" fill="#696969"/>
<g clip-path="url(#c14)"><path d="M299,439.93 L298.13,437.01 L297.25,434.08 L296.38,431.15 L295.51,428.22 L294.64,425.29 L293.77,422.37 L292.9,419.44 L292.04,416.51 L291.18,413.58 L290.31,410.65 L289.45,407.71 L288.59,404.78 L287.74,401.85 L286.88,398.92 L290.53,397.85 L291.38,400.79 L292.24,403.72 L293.1,406.64 L293.96,409.57 L294.82,412.5 L295.68,415.43 L296.55,418.36 L297.41,421.29 L298.28,424.21 L299.15,427.14 L300.02,430.07 L300.89,432.99 L301.77,435.92 L302.64,438.84Z" fill="#fff" fill-opacity="0.3"/><path d="M310.69,436.43 L309.82,433.51 L308.94,430.59 L308.07,427.67 L307.2,424.75 L306.34,421.82 L305.47,418.9 L304.6,415.98 L303.74,413.05 L302.88,410.13 L302.02,407.21 L301.16,404.28 L300.3,401.35 L299.45,398.43 L298.59,395.5 L302.24,394.44 L303.09,397.36 L303.95,400.29 L304.81,403.21 L305.66,406.13 L306.52,409.06 L307.39,411.98 L308.25,414.9 L309.11,417.82 L309.98,420.74 L310.85,423.66 L311.71,426.58 L312.58,429.5 L313.46,432.42 L314.33,435.34Z" fill="#000" fill-opacity="0.3"/></g>
<clipPath id="c15"><path d="M329.73,536.12 L328.81,533.22 L327.89,530.32 L326.97,527.41 L326.05,524.51 L325.14,521.61 L324.23,518.71 L323.31,515.8 L322.4,512.9 L321.49,509.99 L320.59,507.09 L319.68,504.18 L318.77,501.28 L317.87,498.37 L316.97,495.46 L316.07,492.55 L315.17,489.65 L314.27,486.74 L313.38,483.83 L312.48,480.92 L311.59,478.01 L310.7,475.1 L309.81,472.19 L308.92,469.28 L308.03,466.37 L307.14,463.46 L306.26,460.54 L305.38,457.63 L304.49,454.72 L303.61,451.8 L302.74,448.89 L301.86,445.97 L300.98,443.06 L314.39,439.03 L315.27,441.94 L316.14,444.85 L317.02,447.76 L317.9,450.67 L318.78,453.57 L319.66,456.48 L320.54,459.38 L321.42,462.29 L322.31,465.19 L323.19,468.1 L324.08,471 L324.97,473.91 L325.86,476.81 L326.76,479.71 L327.65,482.61 L328.55,485.51 L329.44,488.42 L330.34,491.32 L331.24,494.22 L332.14,497.12 L333.05,500.02 L333.95,502.91 L334.86,505.81 L335.76,508.71 L336.67,511.61 L337.58,514.51 L338.49,517.4 L339.41,520.3 L340.32,523.19 L341.24,526.09 L342.15,528.98 L343.07,531.88Z"/></clipPath>
<path d="M329.73,536.12 L328.81,533.22 L327.89,530.32 L326.97,527.41 L326.05,524.51 L325.14,521.61 L324.23,518.71 L323.31,515.8 L322.4,512.9 L321.49,509.99 L320.59,507.09 L319.68,504.18 L318.77,501.28 L317.87,498.37 L316.97,495.46 L316.07,492.55 L315.17,489.65 L314.27,486.74 L313.38,483.83 L312.48,480.92 L311.59,478.01 L310.7,475.1 L309.81,472.19 L308.92,469.28 L308.03,466.37 L307.14,463.46 L306.26,460.54 L305.38,457.63 L304.49,454.72 L303.61,451.8 L302.74,448.89 L301.86,445.97 L300.98,443.06 L314.39,439.03 L315.27,441.94 L316.14,444.85 L317.02,447.76 L317.9,450.67 L318.78,453.57 L319.66,456.48 L320.54,459.38 L321.42,462.29 L322.31,465.19 L323.19,468.1 L324.08,471 L324.97,473.91 L325.86,476.81 L326.76,479.71 L327.65,482.61 L328.55,485.51 L329.44,488.42 L330.34,491.32 L331.24,494.22 L332.14,497.12 L333.05,500.02 L333.95,502.91 L334.86,505.81 L335.76,508.71 L336.67,511.61 L337.58,514.51 L338.49,517.4 L339.41,520.3 L340.32,523.19 L341.24,526.09 L342.15,528.98 L343.07,531.88Z" fill="#00ffff"/>
<g clip-path="url(#c15)"><path d="M329.68,539.25 L328.76,536.35 L327.84,533.46 L326.92,530.56 L326,527.66 L325.09,524.76 L324.17,521.86 L323.26,518.96 L322.35,516.06 L321.44,513.16 L320.53,510.26 L319.62,507.36 L318.72,504.46 L317.81,501.56 L316.91,498.65 L316.01,495.75 L315.11,492.85 L314.21,489.94 L313.32,487.04 L312.42,484.13 L311.53,481.23 L310.64,478.32 L309.75,475.41 L308.86,472.51 L307.97,469.6 L307.08,466.69 L306.2,463.78 L305.31,460.87 L304.43,457.97 L303.55,455.06 L302.67,452.15 L301.8,449.24 L300.92,446.32 L300.05,443.41 L299.17,440.5 L302.81,439.41 L303.69,442.32 L304.56,445.23 L305.43,448.14 L306.31,451.05 L307.19,453.96 L308.07,456.86 L308.95,459.77 L309.83,462.68 L310.72,465.58 L311.6,468.49 L312.49,471.4 L313.38,474.3 L314.27,477.21 L315.16,480.11 L316.05,483.01 L316.95,485.92 L317.84,488.82 L318.74,491.72 L319.64,494.62 L320.54,497.53 L321.44,500.43 L322.35,503.33 L323.25,506.23 L324.16,509.13 L325.06,512.03 L325.97,514.93 L326.88,517.82 L327.8,520.72 L328.71,523.62 L329.62,526.52 L330.54,529.41 L331.46,532.31 L332.38,535.2 L333.3,538.1Z" fill="#fff" fill-opacity="0.3"/><path d="M341.3,535.55 L340.38,532.66 L339.47,529.77 L338.55,526.88 L337.63,523.98 L336.72,521.09 L335.81,518.2 L334.9,515.3 L333.99,512.41 L333.08,509.52 L332.17,506.62 L331.27,503.72 L330.37,500.83 L329.46,497.93 L328.56,495.03 L327.66,492.14 L326.77,489.24 L325.87,486.34 L324.98,483.44 L324.08,480.54 L323.19,477.64 L322.3,474.74 L321.41,471.84 L320.52,468.94 L319.64,466.04 L318.75,463.14 L317.87,460.24 L316.99,457.33 L316.11,454.43 L315.23,451.53 L314.35,448.62 L313.48,445.72 L312.6,442.81 L311.73,439.91 L310.86,437 L314.5,435.91 L315.37,438.81 L316.24,441.72 L317.12,444.62 L317.99,447.52 L318.87,450.43 L319.75,453.33 L320.63,456.23 L321.51,459.13 L322.39,462.03 L323.27,464.93 L324.16,467.83 L325.05,470.73 L325.93,473.63 L326.82,476.53 L327.71,479.43 L328.61,482.32 L329.5,485.22 L330.4,488.12 L331.29,491.01 L332.19,493.91 L333.09,496.8 L333.99,499.7 L334.9,502.59 L335.8,505.49 L336.71,508.38 L337.61,511.27 L338.52,514.16 L339.43,517.06 L340.34,519.95 L341.26,522.84 L342.17,525.73 L343.09,528.62 L344,531.51 L344.92,534.4Z" fill="#000" fill-opacity="0.3"/></g>
<clipPath id="c16"><path d="M363.57,639.4 L362.62,636.57 L361.67,633.74 L360.71,630.91 L359.76,628.07 L358.81,625.24 L357.87,622.41 L356.92,619.58 L355.98,616.75 L355.03,613.91 L354.09,611.08 L353.15,608.24 L352.21,605.41 L351.27,602.57 L350.33,599.74 L349.4,596.9 L348.47,594.06 L347.53,591.23 L346.6,588.39 L345.67,585.55 L344.74,582.71 L343.82,579.87 L342.89,577.03 L341.97,574.19 L341.05,571.35 L340.12,568.51 L339.21,565.67 L338.29,562.83 L337.37,559.99 L336.45,557.15 L335.54,554.3 L334.63,551.46 L333.72,548.61 L332.81,545.77 L331.9,542.93 L330.99,540.08 L344.33,535.83 L345.24,538.67 L346.14,541.51 L347.05,544.35 L347.96,547.18 L348.87,550.02 L349.78,552.86 L350.69,555.69 L351.61,558.53 L352.53,561.36 L353.44,564.2 L354.36,567.03 L355.28,569.87 L356.2,572.7 L357.13,575.53 L358.05,578.37 L358.98,581.2 L359.91,584.03 L360.83,586.86 L361.77,589.69 L362.7,592.52 L363.63,595.35 L364.56,598.18 L365.5,601.01 L366.44,603.84 L367.38,606.66 L368.32,609.49 L369.26,612.32 L370.2,615.15 L371.14,617.97 L372.09,620.8 L373.04,623.62 L373.99,626.45 L374.94,629.27 L375.89,632.09 L376.84,634.92Z"/></clipPath>
<path d="M363.57,639.4 L362.62,636.57 L361.67,633.74 L360.71,630.91 L359.76,628.07 L358.81,625.24 L357.87,622.41 L356.92,619.58 L355.98,616.75 L355.03,613.91 L354.09,611.08 L353.15,608.24 L352.21,605.41 L351.27,602.57 L350.33,599.74 L349.4,596.9 L348.47,594.06 L347.53,591.23 L346.6,588.39 L345.67,585.55 L344.74,582.71 L343.82,579.87 L342.89,577.03 L341.97,574.19 L341.05,571.35 L340.12,568.51 L339.21,565.67 L338.29,562.83 L337.37,559.99 L336.45,557.15 L335.54,554.3 L334.63,551.46 L333.72,548.61 L332.81,545.77 L331.9,542.93 L330.99,540.08 L344.33,535.83 L345.24,538.67 L346.14,541.51 L347.05,544.35 L347.96,547.18 L348.87,550.02 L349.78,552.86 L350.69,555.69 L351.61,558.53 L352.53,561.36 L353.44,564.2 L354.36,567.03 L355.28,569.87 L356.2,572.7 L357.13,575.53 L358.05,578.37 L358.98,581.2 L359.91,584.03 L360.83,586.86 L361.77,589.69 L362.7,592.52 L363.63,595.35 L364.56,598.18 L365.5,601.01 L366.44,603.84 L367.38,606.66 L368.32,609.49 L369.26,612.32 L370.2,615.15 L371.14,617.97 L372.09,620.8 L373.04,623.62 L373.99,626.45 L374.94,629.27 L375.89,632.09 L376.84,634.92Z" fill="#c0c0c0"/>
<g clip-path="url(#c16)"><path d="M363.58,642.53 L362.62,639.7 L361.67,636.87 L360.71,634.04 L359.76,631.21 L358.81,628.38 L357.86,625.55 L356.92,622.72 L355.97,619.89 L355.02,617.05 L354.08,614.22 L353.14,611.39 L352.2,608.55 L351.26,605.72 L350.32,602.88 L349.38,600.05 L348.45,597.21 L347.52,594.38 L346.58,591.54 L345.65,588.7 L344.72,585.86 L343.79,583.03 L342.87,580.19 L341.94,577.35 L341.02,574.51 L340.1,571.67 L339.18,568.83 L338.26,565.99 L337.34,563.15 L336.42,560.3 L335.51,557.46 L334.59,554.62 L333.68,551.78 L332.77,548.93 L331.86,546.09 L330.95,543.24 L330.04,540.4 L329.14,537.55 L332.76,536.4 L333.66,539.25 L334.57,542.09 L335.48,544.93 L336.39,547.77 L337.3,550.62 L338.21,553.46 L339.12,556.3 L340.04,559.14 L340.95,561.98 L341.87,564.82 L342.79,567.66 L343.71,570.5 L344.63,573.33 L345.56,576.17 L346.48,579.01 L347.41,581.85 L348.33,584.68 L349.26,587.52 L350.19,590.35 L351.13,593.19 L352.06,596.02 L352.99,598.86 L353.93,601.69 L354.87,604.52 L355.8,607.36 L356.74,610.19 L357.69,613.02 L358.63,615.85 L359.57,618.68 L360.52,621.51 L361.47,624.34 L362.41,627.17 L363.36,630 L364.32,632.83 L365.27,635.66 L366.22,638.49 L367.18,641.31Z" fill="#fff" fill-opacity="0.3"/><path d="M375.14,638.62 L374.18,635.8 L373.23,632.97 L372.28,630.15 L371.33,627.33 L370.38,624.5 L369.43,621.68 L368.49,618.85 L367.54,616.02 L366.6,613.2 L365.66,610.37 L364.72,607.54 L363.78,604.71 L362.84,601.88 L361.9,599.05 L360.97,596.22 L360.04,593.39 L359.1,590.56 L358.17,587.73 L357.25,584.9 L356.32,582.07 L355.39,579.24 L354.47,576.4 L353.54,573.57 L352.62,570.74 L351.7,567.9 L350.78,565.07 L349.86,562.23 L348.95,559.4 L348.03,556.56 L347.12,553.72 L346.21,550.89 L345.3,548.05 L344.39,545.21 L343.48,542.37 L342.57,539.54 L341.67,536.7 L340.76,533.86 L344.38,532.71 L345.29,535.54 L346.19,538.38 L347.1,541.22 L348.01,544.05 L348.91,546.89 L349.82,549.73 L350.74,552.56 L351.65,555.4 L352.56,558.23 L353.48,561.06 L354.4,563.9 L355.32,566.73 L356.24,569.56 L357.16,572.39 L358.08,575.23 L359,578.06 L359.93,580.89 L360.86,583.72 L361.78,586.55 L362.71,589.38 L363.65,592.21 L364.58,595.03 L365.51,597.86 L366.45,600.69 L367.38,603.52 L368.32,606.34 L369.26,609.17 L370.2,611.99 L371.15,614.82 L372.09,617.64 L373.03,620.47 L373.98,623.29 L374.93,626.12 L375.88,628.94 L376.83,631.76 L377.78,634.58 L378.73,637.4Z" fill="#000" fill-opacity="0.3"/></g>
<path d="M445.21,624.19 L450.89,622.26 M362.46,652.32 L356.78,654.25 M441.45,613.1 L442.88,612.62 M358.65,641.06 L357.23,641.54 M437.72,601.99 L439.14,601.52 M354.86,629.79 L353.43,630.27 M434,590.88 L435.42,590.41 M351.09,618.52 L349.66,618.99 M430.31,579.76 L431.73,579.29 M347.34,607.24 L345.91,607.71 M426.63,568.64 L432.33,566.76 M343.61,595.95 L337.91,597.82 M422.98,557.5 L424.41,557.04 M339.91,584.65 L338.48,585.12 M419.36,546.36 L420.78,545.9 M336.23,573.35 L334.8,573.81 M415.75,535.22 L417.18,534.76 M332.57,562.04 L331.14,562.5 M412.17,524.06 L413.59,523.6 M328.93,550.72 L327.5,551.18 M408.6,512.9 L414.32,511.08 M325.31,539.39 L319.6,541.21 M405.06,501.73 L406.49,501.28 M321.72,528.06 L320.29,528.51 M401.54,490.56 L402.97,490.11 M318.15,516.72 L316.72,517.17 M398.05,479.37 L399.48,478.93 M314.6,505.37 L313.17,505.82 M394.57,468.18 L396.01,467.74 M311.08,494.02 L309.65,494.46 M391.12,456.99 L396.86,455.23 M307.58,482.66 L301.84,484.42 M387.69,445.79 L389.12,445.35 M304.09,471.29 L302.66,471.73 M384.28,434.58 L385.72,434.14 M300.64,459.92 L299.2,460.35 M380.89,423.36 L382.33,422.93 M297.2,448.54 L295.76,448.97 M377.53,412.14 L378.97,411.71 M293.79,437.15 L292.35,437.58 M374.19,400.91 L379.94,399.2 M290.4,425.76 L284.64,427.46 M370.87,389.67 L372.31,389.25 M287.03,414.36 L285.59,414.78 M367.57,378.43 L369.01,378.01 M283.68,402.95 L282.24,403.37 M364.29,367.18 L365.74,366.76 M280.36,391.53 L278.92,391.95 M361.04,355.92 L362.48,355.51 M277.05,380.11 L275.61,380.53 M357.81,344.66 L363.58,343.01 M273.78,368.69 L268.01,370.34 M354.6,333.39 L356.04,332.98 M270.52,357.25 L269.08,357.66 M351.41,322.12 L352.86,321.71 M267.29,345.81 L265.84,346.22 M348.25,310.84 L349.69,310.44 M264.07,334.37 L262.63,334.77 M345.1,299.55 L346.55,299.15 M260.89,322.91 L259.44,323.32 M341.98,288.26 L347.77,286.67 M257.72,311.46 L251.93,313.05 M338.89,276.96 L340.33,276.57 M254.57,299.99 L253.13,300.39 M335.81,265.66 L337.26,265.26 M251.45,288.52 L250.01,288.91 M332.76,254.34 L334.2,253.95 M248.35,277.04 L246.91,277.43 M329.72,243.03 L331.17,242.64 M245.28,265.56 L243.83,265.95 M326.72,231.7 L332.52,230.17 M242.23,254.07 L236.42,255.6 M323.73,220.37 L325.18,219.99 M239.19,242.57 L237.74,242.95 M320.76,209.04 L322.21,208.66 M236.19,231.07 L234.73,231.45 M317.82,197.7 L319.27,197.32 M233.2,219.57 L231.75,219.94 M314.9,186.35 L316.35,185.98 M230.24,208.05 L228.78,208.42 M312,175 L317.82,173.52 M227.3,196.53 L221.48,198.01 M309.13,163.64 L310.58,163.28 M224.38,185.01 L222.92,185.38 M306.27,152.28 L307.73,151.91 M221.48,173.48 L220.03,173.84 M303.44,140.91 L304.9,140.55 M218.61,161.94 L217.16,162.3 M300.64,129.53 L302.09,129.18 M215.76,150.4 L214.31,150.76 M297.85,118.15 L303.68,116.73 M212.94,138.85 L207.11,140.27 M295.09,106.77 L296.54,106.42 M210.13,127.3 L208.67,127.65 M292.34,95.38 L293.8,95.03 M207.35,115.74 L205.89,116.09 M289.63,83.98 L291.08,83.63 M204.59,104.18 L203.13,104.53 M286.93,72.58 L288.39,72.24 M201.86,92.61 L200.4,92.95 M284.26,61.17 L290.1,59.81 M199.14,81.04 L193.3,82.4 M281.6,49.76 L283.07,49.42 M196.45,69.46 L194.99,69.79 M278.97,38.34 L280.44,38.01 M193.78,57.87 L192.32,58.21 M276.37,26.92 L277.83,26.59 M191.14,46.28 L189.68,46.61 M273.78,15.49 L275.25,15.16 M188.52,34.68 L187.05,35.01 M271.22,4.06 L277.08,2.75 M185.92,23.08 L180.06,24.39 M268.68,-7.38 L270.15,-7.7 M183.34,11.48 L181.88,11.8 M266.17,-18.82 L267.63,-19.14 M180.79,-0.13 L179.32,0.19 M263.67,-30.27 L265.14,-30.59 M178.26,-11.75 L176.79,-11.43 M261.2,-41.72 L262.67,-42.04 M175.75,-23.37 L174.28,-23.05 M258.75,-53.18 L264.62,-54.43 M173.27,-34.99 L167.4,-33.75" stroke="#008000" stroke-width="2" stroke-linecap="round" fill="none"/>
<text x="297.3" y="59" textLength="37.6" lengthAdjust="spacingAndGlyphs" font-size="8.8" fill="#111">3258 kbp</text>
<text x="310.2" y="116" textLength="37.6" lengthAdjust="spacingAndGlyphs" font-size="8.8" fill="#111">3257 kbp</text>
<text x="324.4" y="172" textLength="37.6" lengthAdjust="spacingAndGlyphs" font-size="8.8" fill="#111">3256 kbp</text>
<text x="338.4" y="229" textLength="37.6" lengthAdjust="spacingAndGlyphs" font-size="8.8" fill="#111">3255 kbp</text>
<text x="353.7" y="285" textLength="37.6" lengthAdjust="spacingAndGlyphs" font-size="8.8" fill="#111">3254 kbp</text>
<text x="369.6" y="341" textLength="37.6" lengthAdjust="spacingAndGlyphs" font-size="8.8" fill="#111">3253 kbp</text>
<text x="385.3" y="397" textLength="37.6" lengthAdjust="spacingAndGlyphs" font-size="8.8" fill="#111">3252 kbp</text>
<text x="402.3" y="453" textLength="37.6" lengthAdjust="spacingAndGlyphs" font-size="8.8" fill="#111">3251 kbp</text>
<text x="419.4" y="509" textLength="37.6" lengthAdjust="spacingAndGlyphs" font-size="8.8" fill="#111">3250 kbp</text>
<text x="437.3" y="564" textLength="37.6" lengthAdjust="spacingAndGlyphs" font-size="8.8" fill="#111">3249 kbp</text>
<path d="M300.73,86.15 L348.59,74.74" stroke="#0000ff" stroke-width="1" fill="none" transform="translate(0.3,0.1)"/>
<text x="349.3" y="76" textLength="56" lengthAdjust="spacingAndGlyphs" font-size="10.3" fill="#0000ff">SARI_03353</text>
<path d="M312.96,136.5 L360.72,124.68" stroke="#0000ff" stroke-width="1" fill="none" transform="translate(0.3,0.1)"/>
<text x="361.6" y="127" textLength="56" lengthAdjust="spacingAndGlyphs" font-size="10.3" fill="#0000ff">SARI_03352</text>
<path d="M324.38,181.87 L372.05,169.67" stroke="#0000ff" stroke-width="1" fill="none" transform="translate(0.3,0.1)"/>
<text x="373.6" y="172" textLength="56" lengthAdjust="spacingAndGlyphs" font-size="10.3" fill="#0000ff">SARI_03351</text>
<path d="M339.3,238.96 L386.84,226.29" stroke="#0000ff" stroke-width="1" fill="none" transform="translate(0.3,0.1)"/>
<text x="388" y="228" textLength="56" lengthAdjust="spacingAndGlyphs" font-size="10.3" fill="#0000ff">SARI_03350</text>
<path d="M361.01,318.2 L408.37,304.87" stroke="#0000ff" stroke-width="1" fill="none" transform="translate(0.3,0.1)"/>
<text x="409.7" y="306" textLength="56" lengthAdjust="spacingAndGlyphs" font-size="10.3" fill="#0000ff">SARI_03349</text>
<path d="M279,423.55 L232.78,437.21" stroke="#ff0000" stroke-width="1" fill="none" transform="translate(0.3,0.1)"/>
<text x="175.5" y="440" textLength="56" lengthAdjust="spacingAndGlyphs" font-size="10.3" fill="#ff0000">SARI_03348</text>
<path d="M300.36,494.22 L254.31,508.45" stroke="#ff0000" stroke-width="1" fill="none" transform="translate(0.3,0.1)"/>
<text x="196.7" y="511" textLength="56" lengthAdjust="spacingAndGlyphs" font-size="10.3" fill="#ff0000">SARI_03347</text>
<rect x="80" y="5" width="440" height="26" fill="#fff" fill-opacity="0.8"/>
<text x="85" y="23" textLength="74" lengthAdjust="spacing" font-size="13" fill="#000" font-style="italic">Salmonella</text>
<text x="164.5" y="23" textLength="53" lengthAdjust="spacing" font-size="13" fill="#000" font-style="italic">enterica</text>
<text x="223" y="23" textLength="42" lengthAdjust="spacing" font-size="13" fill="#000" font-style="italic">subsp.</text>
<text x="272" y="23" textLength="58.5" lengthAdjust="spacing" font-size="13" fill="#000" font-style="italic">arizonae</text>
<text x="335.8" y="23" textLength="48.7" lengthAdjust="spacing" font-size="13" fill="#000" font-style="italic">serovar</text>
<text x="391.3" y="23" textLength="70" lengthAdjust="spacing" font-size="13" fill="#000" font-style="italic">62:z4,z23:</text>
<text x="465" y="23" textLength="16.3" lengthAdjust="spacingAndGlyphs" font-size="13" fill="#000" font-style="italic">--,</text>
<text x="488" y="23" textLength="26.5" lengthAdjust="spacing" font-size="13" fill="#000" font-style="italic">co...</text>
<rect x="5" y="571" width="143" height="24" fill="#fff" fill-opacity="0.8"/>
<rect x="256" y="571" width="338" height="24" fill="#fff" fill-opacity="0.8"/>
<text x="9.5" y="587" textLength="58" lengthAdjust="spacingAndGlyphs" font-size="12.6" fill="#000">Accession:</text>
<text x="73.3" y="587" textLength="69.7" lengthAdjust="spacingAndGlyphs" font-size="12.6" fill="#000">NC_010067</text>
<text x="261.4" y="587" textLength="54.8" lengthAdjust="spacingAndGlyphs" font-size="12.6" fill="#000">Topology:</text>
<text x="322.7" y="587" textLength="44.6" lengthAdjust="spacingAndGlyphs" font-size="12.6" fill="#000">circular;</text>
<text x="373.1" y="587" textLength="39.4" lengthAdjust="spacingAndGlyphs" font-size="12.6" fill="#000">Length:</text>
<text x="417.8" y="587" textLength="63.2" lengthAdjust="spacingAndGlyphs" font-size="12.6" fill="#000">4,600,800</text>
<text x="486.8" y="587" textLength="17.5" lengthAdjust="spacingAndGlyphs" font-size="12.6" fill="#000">bp;</text>
<text x="510.4" y="587" textLength="35" lengthAdjust="spacingAndGlyphs" font-size="12.6" fill="#000">Genes:</text>
<text x="554.8" y="587" textLength="34.1" lengthAdjust="spacingAndGlyphs" font-size="12.6" fill="#000">4,634</text>
</svg>
</body></html>
